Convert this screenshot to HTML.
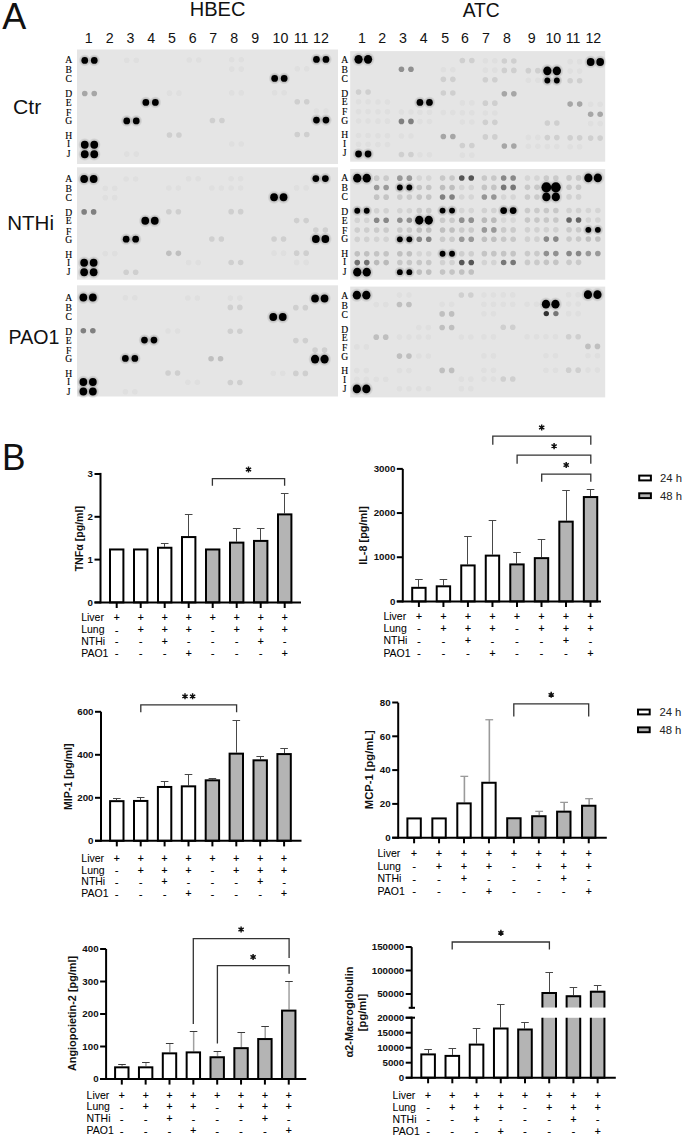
<!DOCTYPE html>
<html><head><meta charset="utf-8"><title>Figure</title>
<style>
html,body{margin:0;padding:0;background:#fff;width:685px;height:1139px;overflow:hidden;}
svg{display:block;}
</style></head>
<body>
<svg width="685" height="1139" viewBox="0 0 685 1139">
<defs><radialGradient id="hg"><stop offset="0.5" stop-color="#000" stop-opacity="0.22"/><stop offset="1" stop-color="#000" stop-opacity="0"/></radialGradient><filter id="bl" x="-2%" y="-2%" width="104%" height="104%"><feGaussianBlur stdDeviation="0.7"/></filter></defs>
<rect width="685" height="1139" fill="#fff"/>
<text transform="translate(2.2,29.2) scale(0.96,1)" font-size="37.5" font-family='"Liberation Sans", sans-serif' font-weight="normal" fill="#111" text-anchor="start">A</text>
<text transform="translate(217.6,16.2) scale(1.04,1)" font-size="19.3" font-family='"Liberation Sans", sans-serif' font-weight="normal" fill="#111" text-anchor="middle">HBEC</text>
<text x="481.2" y="16.6" font-size="19.3" font-family='"Liberation Sans", sans-serif' font-weight="normal" fill="#111" text-anchor="middle">ATC</text>
<text x="88.8" y="43.4" font-size="14.2" font-family='"Liberation Sans", sans-serif' font-weight="normal" fill="#111" text-anchor="middle">1</text>
<text x="109.7" y="43.4" font-size="14.2" font-family='"Liberation Sans", sans-serif' font-weight="normal" fill="#111" text-anchor="middle">2</text>
<text x="130.5" y="43.4" font-size="14.2" font-family='"Liberation Sans", sans-serif' font-weight="normal" fill="#111" text-anchor="middle">3</text>
<text x="151.1" y="43.4" font-size="14.2" font-family='"Liberation Sans", sans-serif' font-weight="normal" fill="#111" text-anchor="middle">4</text>
<text x="171.9" y="43.4" font-size="14.2" font-family='"Liberation Sans", sans-serif' font-weight="normal" fill="#111" text-anchor="middle">5</text>
<text x="192.7" y="43.4" font-size="14.2" font-family='"Liberation Sans", sans-serif' font-weight="normal" fill="#111" text-anchor="middle">6</text>
<text x="213.2" y="43.4" font-size="14.2" font-family='"Liberation Sans", sans-serif' font-weight="normal" fill="#111" text-anchor="middle">7</text>
<text x="234.1" y="43.4" font-size="14.2" font-family='"Liberation Sans", sans-serif' font-weight="normal" fill="#111" text-anchor="middle">8</text>
<text x="255.3" y="43.4" font-size="14.2" font-family='"Liberation Sans", sans-serif' font-weight="normal" fill="#111" text-anchor="middle">9</text>
<text x="280.4" y="43.4" font-size="14.2" font-family='"Liberation Sans", sans-serif' font-weight="normal" fill="#111" text-anchor="middle">10</text>
<text x="301.1" y="43.4" font-size="14.2" font-family='"Liberation Sans", sans-serif' font-weight="normal" fill="#111" text-anchor="middle">11</text>
<text x="320.9" y="43.4" font-size="14.2" font-family='"Liberation Sans", sans-serif' font-weight="normal" fill="#111" text-anchor="middle">12</text>
<text x="361.9" y="43.4" font-size="14.2" font-family='"Liberation Sans", sans-serif' font-weight="normal" fill="#111" text-anchor="middle">1</text>
<text x="382.2" y="43.4" font-size="14.2" font-family='"Liberation Sans", sans-serif' font-weight="normal" fill="#111" text-anchor="middle">2</text>
<text x="403" y="43.4" font-size="14.2" font-family='"Liberation Sans", sans-serif' font-weight="normal" fill="#111" text-anchor="middle">3</text>
<text x="423.8" y="43.4" font-size="14.2" font-family='"Liberation Sans", sans-serif' font-weight="normal" fill="#111" text-anchor="middle">4</text>
<text x="445.3" y="43.4" font-size="14.2" font-family='"Liberation Sans", sans-serif' font-weight="normal" fill="#111" text-anchor="middle">5</text>
<text x="464.9" y="43.4" font-size="14.2" font-family='"Liberation Sans", sans-serif' font-weight="normal" fill="#111" text-anchor="middle">6</text>
<text x="486" y="43.4" font-size="14.2" font-family='"Liberation Sans", sans-serif' font-weight="normal" fill="#111" text-anchor="middle">7</text>
<text x="507" y="43.4" font-size="14.2" font-family='"Liberation Sans", sans-serif' font-weight="normal" fill="#111" text-anchor="middle">8</text>
<text x="531.8" y="43.4" font-size="14.2" font-family='"Liberation Sans", sans-serif' font-weight="normal" fill="#111" text-anchor="middle">9</text>
<text x="553.3" y="43.4" font-size="14.2" font-family='"Liberation Sans", sans-serif' font-weight="normal" fill="#111" text-anchor="middle">10</text>
<text x="573" y="43.4" font-size="14.2" font-family='"Liberation Sans", sans-serif' font-weight="normal" fill="#111" text-anchor="middle">11</text>
<text x="593.3" y="43.4" font-size="14.2" font-family='"Liberation Sans", sans-serif' font-weight="normal" fill="#111" text-anchor="middle">12</text>
<text transform="translate(13.1,114) scale(1.08,1)" font-size="19.6" font-family='"Liberation Sans", sans-serif' font-weight="normal" fill="#111" text-anchor="start">Ctr</text>
<text transform="translate(7.2,229.9) scale(1.05,1)" font-size="19.6" font-family='"Liberation Sans", sans-serif' font-weight="normal" fill="#111" text-anchor="start">NTHi</text>
<text x="8.6" y="343.6" font-size="19.6" font-family='"Liberation Sans", sans-serif' font-weight="normal" fill="#111" text-anchor="start">PAO1</text>
<rect x="77" y="49.5" width="261" height="114.5" fill="#e5e5e5"/>
<g filter="url(#bl)">
<ellipse cx="84.75" cy="60.4" rx="6.15" ry="6.2" fill="url(#hg)"/>
<ellipse cx="94.25" cy="60.4" rx="6.15" ry="6.2" fill="url(#hg)"/>
<ellipse cx="84.75" cy="60.4" rx="3.35" ry="3.4" fill="#000000"/>
<ellipse cx="94.25" cy="60.4" rx="3.35" ry="3.4" fill="#000000"/>
<ellipse cx="126.75" cy="60.22" rx="2.8" ry="2.8" fill="#dfdfdf"/>
<ellipse cx="136.25" cy="60.22" rx="2.8" ry="2.8" fill="#dfdfdf"/>
<ellipse cx="189.25" cy="59.95" rx="2.8" ry="2.8" fill="#dfdfdf"/>
<ellipse cx="198.75" cy="59.95" rx="2.8" ry="2.8" fill="#dfdfdf"/>
<ellipse cx="231.75" cy="59.77" rx="2.8" ry="2.8" fill="#dfdfdf"/>
<ellipse cx="241.25" cy="59.77" rx="2.8" ry="2.8" fill="#dfdfdf"/>
<ellipse cx="316.45" cy="59.4" rx="6.15" ry="6.2" fill="url(#hg)"/>
<ellipse cx="325.95" cy="59.4" rx="6.15" ry="6.2" fill="url(#hg)"/>
<ellipse cx="316.45" cy="59.4" rx="3.35" ry="3.4" fill="#000000"/>
<ellipse cx="325.95" cy="59.4" rx="3.35" ry="3.4" fill="#000000"/>
<ellipse cx="231.75" cy="69.08" rx="2.8" ry="2.8" fill="#dfdfdf"/>
<ellipse cx="241.25" cy="69.08" rx="2.8" ry="2.8" fill="#dfdfdf"/>
<ellipse cx="297.25" cy="68.79" rx="2.8" ry="2.8" fill="#dfdfdf"/>
<ellipse cx="306.75" cy="68.79" rx="2.8" ry="2.8" fill="#dfdfdf"/>
<ellipse cx="274.65" cy="78.4" rx="6.15" ry="6.2" fill="url(#hg)"/>
<ellipse cx="284.15" cy="78.4" rx="6.15" ry="6.2" fill="url(#hg)"/>
<ellipse cx="274.65" cy="78.4" rx="3.35" ry="3.4" fill="#000000"/>
<ellipse cx="284.15" cy="78.4" rx="3.35" ry="3.4" fill="#000000"/>
<ellipse cx="84.75" cy="93.54" rx="2.8" ry="2.8" fill="#a6a6a6"/>
<ellipse cx="94.25" cy="93.54" rx="2.8" ry="2.8" fill="#a6a6a6"/>
<ellipse cx="169.45" cy="93.17" rx="2.8" ry="2.8" fill="#dfdfdf"/>
<ellipse cx="178.95" cy="93.17" rx="2.8" ry="2.8" fill="#dfdfdf"/>
<ellipse cx="231.75" cy="92.9" rx="2.8" ry="2.8" fill="#dfdfdf"/>
<ellipse cx="241.25" cy="92.9" rx="2.8" ry="2.8" fill="#dfdfdf"/>
<ellipse cx="274.65" cy="92.72" rx="2.8" ry="2.8" fill="#dfdfdf"/>
<ellipse cx="284.15" cy="92.72" rx="2.8" ry="2.8" fill="#dfdfdf"/>
<ellipse cx="145.85" cy="102.38" rx="6.15" ry="6.2" fill="url(#hg)"/>
<ellipse cx="155.35" cy="102.38" rx="6.15" ry="6.2" fill="url(#hg)"/>
<ellipse cx="145.85" cy="102.38" rx="3.35" ry="3.4" fill="#000000"/>
<ellipse cx="155.35" cy="102.38" rx="3.35" ry="3.4" fill="#000000"/>
<ellipse cx="297.25" cy="101.73" rx="2.8" ry="2.8" fill="#cfcfcf"/>
<ellipse cx="306.75" cy="101.73" rx="2.8" ry="2.8" fill="#cfcfcf"/>
<ellipse cx="316.45" cy="111.06" rx="2.8" ry="2.8" fill="#dfdfdf"/>
<ellipse cx="325.95" cy="111.06" rx="2.8" ry="2.8" fill="#dfdfdf"/>
<ellipse cx="126.75" cy="120.88" rx="6.15" ry="6.2" fill="url(#hg)"/>
<ellipse cx="136.25" cy="120.88" rx="6.15" ry="6.2" fill="url(#hg)"/>
<ellipse cx="126.75" cy="120.88" rx="3.35" ry="3.4" fill="#000000"/>
<ellipse cx="136.25" cy="120.88" rx="3.35" ry="3.4" fill="#000000"/>
<ellipse cx="212.45" cy="120.51" rx="2.8" ry="2.8" fill="#cfcfcf"/>
<ellipse cx="221.95" cy="120.51" rx="2.8" ry="2.8" fill="#cfcfcf"/>
<ellipse cx="316.45" cy="120.06" rx="6.15" ry="6.2" fill="url(#hg)"/>
<ellipse cx="325.95" cy="120.06" rx="6.15" ry="6.2" fill="url(#hg)"/>
<ellipse cx="316.45" cy="120.06" rx="3.35" ry="3.4" fill="#000000"/>
<ellipse cx="325.95" cy="120.06" rx="3.35" ry="3.4" fill="#000000"/>
<ellipse cx="169.45" cy="135.01" rx="2.8" ry="2.8" fill="#cfcfcf"/>
<ellipse cx="178.95" cy="135.01" rx="2.8" ry="2.8" fill="#cfcfcf"/>
<ellipse cx="297.25" cy="134.46" rx="2.8" ry="2.8" fill="#cfcfcf"/>
<ellipse cx="306.75" cy="134.46" rx="2.8" ry="2.8" fill="#cfcfcf"/>
<ellipse cx="84.75" cy="144.69" rx="6.65" ry="6.8" fill="url(#hg)"/>
<ellipse cx="94.25" cy="144.69" rx="6.65" ry="6.8" fill="url(#hg)"/>
<ellipse cx="84.75" cy="144.69" rx="3.85" ry="4" fill="#000000"/>
<ellipse cx="94.25" cy="144.69" rx="3.85" ry="4" fill="#000000"/>
<ellipse cx="231.75" cy="144.06" rx="2.8" ry="2.8" fill="#dfdfdf"/>
<ellipse cx="241.25" cy="144.06" rx="2.8" ry="2.8" fill="#dfdfdf"/>
<ellipse cx="84.75" cy="154.3" rx="6.65" ry="6.8" fill="url(#hg)"/>
<ellipse cx="94.25" cy="154.3" rx="6.65" ry="6.8" fill="url(#hg)"/>
<ellipse cx="84.75" cy="154.3" rx="3.85" ry="4" fill="#000000"/>
<ellipse cx="94.25" cy="154.3" rx="3.85" ry="4" fill="#000000"/>
<ellipse cx="126.75" cy="154.12" rx="2.8" ry="2.8" fill="#dfdfdf"/>
<ellipse cx="136.25" cy="154.12" rx="2.8" ry="2.8" fill="#dfdfdf"/>
</g>
<text x="68.7" y="62.8" font-size="9.6" font-family='"Liberation Serif", serif' font-weight="normal" fill="#000" text-anchor="middle" stroke="#000" stroke-width="0.12">A</text>
<text x="68.7" y="72.9" font-size="9.6" font-family='"Liberation Serif", serif' font-weight="normal" fill="#000" text-anchor="middle" stroke="#000" stroke-width="0.12">B</text>
<text x="68.7" y="81.9" font-size="9.6" font-family='"Liberation Serif", serif' font-weight="normal" fill="#000" text-anchor="middle" stroke="#000" stroke-width="0.12">C</text>
<text x="68.7" y="96.8" font-size="9.6" font-family='"Liberation Serif", serif' font-weight="normal" fill="#000" text-anchor="middle" stroke="#000" stroke-width="0.12">D</text>
<text x="68.7" y="105.5" font-size="9.6" font-family='"Liberation Serif", serif' font-weight="normal" fill="#000" text-anchor="middle" stroke="#000" stroke-width="0.12">E</text>
<text x="68.7" y="115.6" font-size="9.6" font-family='"Liberation Serif", serif' font-weight="normal" fill="#000" text-anchor="middle" stroke="#000" stroke-width="0.12">F</text>
<text x="68.7" y="124.3" font-size="9.6" font-family='"Liberation Serif", serif' font-weight="normal" fill="#000" text-anchor="middle" stroke="#000" stroke-width="0.12">G</text>
<text x="68.7" y="138.6" font-size="9.6" font-family='"Liberation Serif", serif' font-weight="normal" fill="#000" text-anchor="middle" stroke="#000" stroke-width="0.12">H</text>
<text x="68.7" y="147" font-size="9.6" font-family='"Liberation Serif", serif' font-weight="normal" fill="#000" text-anchor="middle" stroke="#000" stroke-width="0.12">I</text>
<text x="68.7" y="156.5" font-size="9.6" font-family='"Liberation Serif", serif' font-weight="normal" fill="#000" text-anchor="middle" stroke="#000" stroke-width="0.12">J</text>
<rect x="77" y="167.3" width="261" height="112.4" fill="#e5e5e5"/>
<g filter="url(#bl)">
<ellipse cx="84.15" cy="179" rx="6.65" ry="6.8" fill="url(#hg)"/>
<ellipse cx="93.65" cy="179" rx="6.65" ry="6.8" fill="url(#hg)"/>
<ellipse cx="84.15" cy="179" rx="3.85" ry="4" fill="#000000"/>
<ellipse cx="93.65" cy="179" rx="3.85" ry="4" fill="#000000"/>
<ellipse cx="126.15" cy="178.93" rx="2.8" ry="2.8" fill="#dfdfdf"/>
<ellipse cx="135.65" cy="178.93" rx="2.8" ry="2.8" fill="#dfdfdf"/>
<ellipse cx="188.65" cy="178.82" rx="2.8" ry="2.8" fill="#dfdfdf"/>
<ellipse cx="198.15" cy="178.82" rx="2.8" ry="2.8" fill="#dfdfdf"/>
<ellipse cx="231.15" cy="178.75" rx="2.8" ry="2.8" fill="#dfdfdf"/>
<ellipse cx="240.65" cy="178.75" rx="2.8" ry="2.8" fill="#dfdfdf"/>
<ellipse cx="315.85" cy="178.6" rx="6.15" ry="6.2" fill="url(#hg)"/>
<ellipse cx="325.35" cy="178.6" rx="6.15" ry="6.2" fill="url(#hg)"/>
<ellipse cx="315.85" cy="178.6" rx="3.35" ry="3.4" fill="#000000"/>
<ellipse cx="325.35" cy="178.6" rx="3.35" ry="3.4" fill="#000000"/>
<ellipse cx="105.25" cy="188.22" rx="2.8" ry="2.8" fill="#dfdfdf"/>
<ellipse cx="114.75" cy="188.22" rx="2.8" ry="2.8" fill="#dfdfdf"/>
<ellipse cx="168.85" cy="188.11" rx="2.8" ry="2.8" fill="#dfdfdf"/>
<ellipse cx="178.35" cy="188.11" rx="2.8" ry="2.8" fill="#dfdfdf"/>
<ellipse cx="211.85" cy="188.03" rx="2.8" ry="2.8" fill="#dfdfdf"/>
<ellipse cx="221.35" cy="188.03" rx="2.8" ry="2.8" fill="#dfdfdf"/>
<ellipse cx="231.15" cy="188" rx="2.8" ry="2.8" fill="#dfdfdf"/>
<ellipse cx="240.65" cy="188" rx="2.8" ry="2.8" fill="#dfdfdf"/>
<ellipse cx="296.65" cy="187.88" rx="2.8" ry="2.8" fill="#dfdfdf"/>
<ellipse cx="306.15" cy="187.88" rx="2.8" ry="2.8" fill="#dfdfdf"/>
<ellipse cx="105.25" cy="197.66" rx="2.8" ry="2.8" fill="#dfdfdf"/>
<ellipse cx="114.75" cy="197.66" rx="2.8" ry="2.8" fill="#dfdfdf"/>
<ellipse cx="274.05" cy="197.37" rx="6.65" ry="6.8" fill="url(#hg)"/>
<ellipse cx="283.55" cy="197.37" rx="6.65" ry="6.8" fill="url(#hg)"/>
<ellipse cx="274.05" cy="197.37" rx="3.85" ry="4" fill="#000000"/>
<ellipse cx="283.55" cy="197.37" rx="3.85" ry="4" fill="#000000"/>
<ellipse cx="84.15" cy="211.92" rx="2.8" ry="2.8" fill="#808080"/>
<ellipse cx="93.65" cy="211.92" rx="2.8" ry="2.8" fill="#808080"/>
<ellipse cx="168.85" cy="211.78" rx="2.8" ry="2.8" fill="#cfcfcf"/>
<ellipse cx="178.35" cy="211.78" rx="2.8" ry="2.8" fill="#cfcfcf"/>
<ellipse cx="231.15" cy="211.67" rx="2.8" ry="2.8" fill="#cfcfcf"/>
<ellipse cx="240.65" cy="211.67" rx="2.8" ry="2.8" fill="#cfcfcf"/>
<ellipse cx="145.25" cy="220.87" rx="6.65" ry="6.8" fill="url(#hg)"/>
<ellipse cx="154.75" cy="220.87" rx="6.65" ry="6.8" fill="url(#hg)"/>
<ellipse cx="145.25" cy="220.87" rx="3.85" ry="4" fill="#000000"/>
<ellipse cx="154.75" cy="220.87" rx="3.85" ry="4" fill="#000000"/>
<ellipse cx="296.65" cy="220.61" rx="2.8" ry="2.8" fill="#cfcfcf"/>
<ellipse cx="306.15" cy="220.61" rx="2.8" ry="2.8" fill="#cfcfcf"/>
<ellipse cx="315.85" cy="229.93" rx="2.8" ry="2.8" fill="#cfcfcf"/>
<ellipse cx="325.35" cy="229.93" rx="2.8" ry="2.8" fill="#cfcfcf"/>
<ellipse cx="126.15" cy="239.21" rx="6.15" ry="6.2" fill="url(#hg)"/>
<ellipse cx="135.65" cy="239.21" rx="6.15" ry="6.2" fill="url(#hg)"/>
<ellipse cx="126.15" cy="239.21" rx="3.35" ry="3.4" fill="#000000"/>
<ellipse cx="135.65" cy="239.21" rx="3.35" ry="3.4" fill="#000000"/>
<ellipse cx="211.85" cy="239.06" rx="2.8" ry="2.8" fill="#cfcfcf"/>
<ellipse cx="221.35" cy="239.06" rx="2.8" ry="2.8" fill="#cfcfcf"/>
<ellipse cx="274.05" cy="238.95" rx="2.8" ry="2.8" fill="#cfcfcf"/>
<ellipse cx="283.55" cy="238.95" rx="2.8" ry="2.8" fill="#cfcfcf"/>
<ellipse cx="315.85" cy="238.88" rx="6.65" ry="6.8" fill="url(#hg)"/>
<ellipse cx="325.35" cy="238.88" rx="6.65" ry="6.8" fill="url(#hg)"/>
<ellipse cx="315.85" cy="238.88" rx="3.85" ry="4" fill="#000000"/>
<ellipse cx="325.35" cy="238.88" rx="3.85" ry="4" fill="#000000"/>
<ellipse cx="105.25" cy="253.47" rx="2.8" ry="2.8" fill="#dfdfdf"/>
<ellipse cx="114.75" cy="253.47" rx="2.8" ry="2.8" fill="#dfdfdf"/>
<ellipse cx="168.85" cy="253.36" rx="2.8" ry="2.8" fill="#bfbfbf"/>
<ellipse cx="178.35" cy="253.36" rx="2.8" ry="2.8" fill="#bfbfbf"/>
<ellipse cx="274.05" cy="253.17" rx="2.8" ry="2.8" fill="#dfdfdf"/>
<ellipse cx="283.55" cy="253.17" rx="2.8" ry="2.8" fill="#dfdfdf"/>
<ellipse cx="296.65" cy="253.13" rx="2.8" ry="2.8" fill="#cfcfcf"/>
<ellipse cx="306.15" cy="253.13" rx="2.8" ry="2.8" fill="#cfcfcf"/>
<ellipse cx="84.15" cy="262.75" rx="6.65" ry="6.8" fill="url(#hg)"/>
<ellipse cx="93.65" cy="262.75" rx="6.65" ry="6.8" fill="url(#hg)"/>
<ellipse cx="84.15" cy="262.75" rx="3.85" ry="4" fill="#000000"/>
<ellipse cx="93.65" cy="262.75" rx="3.85" ry="4" fill="#000000"/>
<ellipse cx="188.65" cy="262.57" rx="2.8" ry="2.8" fill="#dfdfdf"/>
<ellipse cx="198.15" cy="262.57" rx="2.8" ry="2.8" fill="#dfdfdf"/>
<ellipse cx="231.15" cy="262.5" rx="2.8" ry="2.8" fill="#cfcfcf"/>
<ellipse cx="240.65" cy="262.5" rx="2.8" ry="2.8" fill="#cfcfcf"/>
<ellipse cx="296.65" cy="262.39" rx="2.8" ry="2.8" fill="#dfdfdf"/>
<ellipse cx="306.15" cy="262.39" rx="2.8" ry="2.8" fill="#dfdfdf"/>
<ellipse cx="84.15" cy="272.3" rx="6.65" ry="6.8" fill="url(#hg)"/>
<ellipse cx="93.65" cy="272.3" rx="6.65" ry="6.8" fill="url(#hg)"/>
<ellipse cx="84.15" cy="272.3" rx="3.85" ry="4" fill="#000000"/>
<ellipse cx="93.65" cy="272.3" rx="3.85" ry="4" fill="#000000"/>
<ellipse cx="126.15" cy="272.23" rx="2.8" ry="2.8" fill="#cfcfcf"/>
<ellipse cx="135.65" cy="272.23" rx="2.8" ry="2.8" fill="#cfcfcf"/>
</g>
<text x="68.7" y="181.7" font-size="9.6" font-family='"Liberation Serif", serif' font-weight="normal" fill="#000" text-anchor="middle" stroke="#000" stroke-width="0.12">A</text>
<text x="68.7" y="191.8" font-size="9.6" font-family='"Liberation Serif", serif' font-weight="normal" fill="#000" text-anchor="middle" stroke="#000" stroke-width="0.12">B</text>
<text x="68.7" y="200.8" font-size="9.6" font-family='"Liberation Serif", serif' font-weight="normal" fill="#000" text-anchor="middle" stroke="#000" stroke-width="0.12">C</text>
<text x="68.7" y="215.7" font-size="9.6" font-family='"Liberation Serif", serif' font-weight="normal" fill="#000" text-anchor="middle" stroke="#000" stroke-width="0.12">D</text>
<text x="68.7" y="224.4" font-size="9.6" font-family='"Liberation Serif", serif' font-weight="normal" fill="#000" text-anchor="middle" stroke="#000" stroke-width="0.12">E</text>
<text x="68.7" y="234.5" font-size="9.6" font-family='"Liberation Serif", serif' font-weight="normal" fill="#000" text-anchor="middle" stroke="#000" stroke-width="0.12">F</text>
<text x="68.7" y="243.2" font-size="9.6" font-family='"Liberation Serif", serif' font-weight="normal" fill="#000" text-anchor="middle" stroke="#000" stroke-width="0.12">G</text>
<text x="68.7" y="257.5" font-size="9.6" font-family='"Liberation Serif", serif' font-weight="normal" fill="#000" text-anchor="middle" stroke="#000" stroke-width="0.12">H</text>
<text x="68.7" y="265.9" font-size="9.6" font-family='"Liberation Serif", serif' font-weight="normal" fill="#000" text-anchor="middle" stroke="#000" stroke-width="0.12">I</text>
<text x="68.7" y="275.4" font-size="9.6" font-family='"Liberation Serif", serif' font-weight="normal" fill="#000" text-anchor="middle" stroke="#000" stroke-width="0.12">J</text>
<rect x="77" y="285.3" width="261" height="111.2" fill="#e5e5e5"/>
<g filter="url(#bl)">
<ellipse cx="83.35" cy="297.6" rx="6.65" ry="6.8" fill="url(#hg)"/>
<ellipse cx="92.85" cy="297.6" rx="6.65" ry="6.8" fill="url(#hg)"/>
<ellipse cx="83.35" cy="297.6" rx="3.85" ry="4" fill="#000000"/>
<ellipse cx="92.85" cy="297.6" rx="3.85" ry="4" fill="#000000"/>
<ellipse cx="125.35" cy="297.74" rx="2.8" ry="2.8" fill="#dfdfdf"/>
<ellipse cx="134.85" cy="297.74" rx="2.8" ry="2.8" fill="#dfdfdf"/>
<ellipse cx="187.85" cy="297.96" rx="2.8" ry="2.8" fill="#dfdfdf"/>
<ellipse cx="197.35" cy="297.96" rx="2.8" ry="2.8" fill="#dfdfdf"/>
<ellipse cx="230.35" cy="298.1" rx="2.8" ry="2.8" fill="#dfdfdf"/>
<ellipse cx="239.85" cy="298.1" rx="2.8" ry="2.8" fill="#dfdfdf"/>
<ellipse cx="315.05" cy="298.4" rx="6.65" ry="6.8" fill="url(#hg)"/>
<ellipse cx="324.55" cy="298.4" rx="6.65" ry="6.8" fill="url(#hg)"/>
<ellipse cx="315.05" cy="298.4" rx="3.85" ry="4" fill="#000000"/>
<ellipse cx="324.55" cy="298.4" rx="3.85" ry="4" fill="#000000"/>
<ellipse cx="230.35" cy="307.42" rx="2.8" ry="2.8" fill="#cfcfcf"/>
<ellipse cx="239.85" cy="307.42" rx="2.8" ry="2.8" fill="#cfcfcf"/>
<ellipse cx="295.85" cy="307.65" rx="2.8" ry="2.8" fill="#cfcfcf"/>
<ellipse cx="305.35" cy="307.65" rx="2.8" ry="2.8" fill="#cfcfcf"/>
<ellipse cx="273.25" cy="317.09" rx="6.65" ry="6.8" fill="url(#hg)"/>
<ellipse cx="282.75" cy="317.09" rx="6.65" ry="6.8" fill="url(#hg)"/>
<ellipse cx="273.25" cy="317.09" rx="3.85" ry="4" fill="#000000"/>
<ellipse cx="282.75" cy="317.09" rx="3.85" ry="4" fill="#000000"/>
<ellipse cx="83.35" cy="330.77" rx="2.8" ry="2.8" fill="#808080"/>
<ellipse cx="92.85" cy="330.77" rx="2.8" ry="2.8" fill="#808080"/>
<ellipse cx="168.05" cy="331.06" rx="2.8" ry="2.8" fill="#dfdfdf"/>
<ellipse cx="177.55" cy="331.06" rx="2.8" ry="2.8" fill="#dfdfdf"/>
<ellipse cx="230.35" cy="331.27" rx="2.8" ry="2.8" fill="#cfcfcf"/>
<ellipse cx="239.85" cy="331.27" rx="2.8" ry="2.8" fill="#cfcfcf"/>
<ellipse cx="144.45" cy="340.1" rx="6.15" ry="6.2" fill="url(#hg)"/>
<ellipse cx="153.95" cy="340.1" rx="6.15" ry="6.2" fill="url(#hg)"/>
<ellipse cx="144.45" cy="340.1" rx="3.35" ry="3.4" fill="#000000"/>
<ellipse cx="153.95" cy="340.1" rx="3.35" ry="3.4" fill="#000000"/>
<ellipse cx="295.85" cy="340.62" rx="2.8" ry="2.8" fill="#cfcfcf"/>
<ellipse cx="305.35" cy="340.62" rx="2.8" ry="2.8" fill="#cfcfcf"/>
<ellipse cx="315.05" cy="350.11" rx="2.8" ry="2.8" fill="#cfcfcf"/>
<ellipse cx="324.55" cy="350.11" rx="2.8" ry="2.8" fill="#cfcfcf"/>
<ellipse cx="125.35" cy="358.47" rx="6.15" ry="6.2" fill="url(#hg)"/>
<ellipse cx="134.85" cy="358.47" rx="6.15" ry="6.2" fill="url(#hg)"/>
<ellipse cx="125.35" cy="358.47" rx="3.35" ry="3.4" fill="#000000"/>
<ellipse cx="134.85" cy="358.47" rx="3.35" ry="3.4" fill="#000000"/>
<ellipse cx="211.05" cy="358.77" rx="2.8" ry="2.8" fill="#bfbfbf"/>
<ellipse cx="220.55" cy="358.77" rx="2.8" ry="2.8" fill="#bfbfbf"/>
<ellipse cx="315.05" cy="359.12" rx="6.9" ry="7.2" fill="url(#hg)"/>
<ellipse cx="324.55" cy="359.12" rx="6.9" ry="7.2" fill="url(#hg)"/>
<ellipse cx="315.05" cy="359.12" rx="4.1" ry="4.4" fill="#000000"/>
<ellipse cx="324.55" cy="359.12" rx="4.1" ry="4.4" fill="#000000"/>
<ellipse cx="168.05" cy="372.95" rx="2.8" ry="2.8" fill="#cfcfcf"/>
<ellipse cx="177.55" cy="372.95" rx="2.8" ry="2.8" fill="#cfcfcf"/>
<ellipse cx="273.25" cy="373.31" rx="2.8" ry="2.8" fill="#dfdfdf"/>
<ellipse cx="282.75" cy="373.31" rx="2.8" ry="2.8" fill="#dfdfdf"/>
<ellipse cx="295.85" cy="373.39" rx="2.8" ry="2.8" fill="#cfcfcf"/>
<ellipse cx="305.35" cy="373.39" rx="2.8" ry="2.8" fill="#cfcfcf"/>
<ellipse cx="83.35" cy="381.97" rx="6.65" ry="6.8" fill="url(#hg)"/>
<ellipse cx="92.85" cy="381.97" rx="6.65" ry="6.8" fill="url(#hg)"/>
<ellipse cx="83.35" cy="381.97" rx="3.85" ry="4" fill="#000000"/>
<ellipse cx="92.85" cy="381.97" rx="3.85" ry="4" fill="#000000"/>
<ellipse cx="187.85" cy="382.34" rx="2.8" ry="2.8" fill="#dfdfdf"/>
<ellipse cx="197.35" cy="382.34" rx="2.8" ry="2.8" fill="#dfdfdf"/>
<ellipse cx="230.35" cy="382.48" rx="2.8" ry="2.8" fill="#cfcfcf"/>
<ellipse cx="239.85" cy="382.48" rx="2.8" ry="2.8" fill="#cfcfcf"/>
<ellipse cx="83.35" cy="391.6" rx="6.65" ry="6.8" fill="url(#hg)"/>
<ellipse cx="92.85" cy="391.6" rx="6.65" ry="6.8" fill="url(#hg)"/>
<ellipse cx="83.35" cy="391.6" rx="3.85" ry="4" fill="#000000"/>
<ellipse cx="92.85" cy="391.6" rx="3.85" ry="4" fill="#000000"/>
<ellipse cx="125.35" cy="391.74" rx="2.8" ry="2.8" fill="#dfdfdf"/>
<ellipse cx="134.85" cy="391.74" rx="2.8" ry="2.8" fill="#dfdfdf"/>
</g>
<text x="68.7" y="300.8" font-size="9.6" font-family='"Liberation Serif", serif' font-weight="normal" fill="#000" text-anchor="middle" stroke="#000" stroke-width="0.12">A</text>
<text x="68.7" y="310.9" font-size="9.6" font-family='"Liberation Serif", serif' font-weight="normal" fill="#000" text-anchor="middle" stroke="#000" stroke-width="0.12">B</text>
<text x="68.7" y="319.9" font-size="9.6" font-family='"Liberation Serif", serif' font-weight="normal" fill="#000" text-anchor="middle" stroke="#000" stroke-width="0.12">C</text>
<text x="68.7" y="334.8" font-size="9.6" font-family='"Liberation Serif", serif' font-weight="normal" fill="#000" text-anchor="middle" stroke="#000" stroke-width="0.12">D</text>
<text x="68.7" y="343.5" font-size="9.6" font-family='"Liberation Serif", serif' font-weight="normal" fill="#000" text-anchor="middle" stroke="#000" stroke-width="0.12">E</text>
<text x="68.7" y="353.6" font-size="9.6" font-family='"Liberation Serif", serif' font-weight="normal" fill="#000" text-anchor="middle" stroke="#000" stroke-width="0.12">F</text>
<text x="68.7" y="362.3" font-size="9.6" font-family='"Liberation Serif", serif' font-weight="normal" fill="#000" text-anchor="middle" stroke="#000" stroke-width="0.12">G</text>
<text x="68.7" y="376.6" font-size="9.6" font-family='"Liberation Serif", serif' font-weight="normal" fill="#000" text-anchor="middle" stroke="#000" stroke-width="0.12">H</text>
<text x="68.7" y="385" font-size="9.6" font-family='"Liberation Serif", serif' font-weight="normal" fill="#000" text-anchor="middle" stroke="#000" stroke-width="0.12">I</text>
<text x="68.7" y="394.5" font-size="9.6" font-family='"Liberation Serif", serif' font-weight="normal" fill="#000" text-anchor="middle" stroke="#000" stroke-width="0.12">J</text>
<rect x="350.2" y="51.1" width="255" height="110.6" fill="#e5e5e5"/>
<g filter="url(#bl)">
<ellipse cx="358.55" cy="59.3" rx="6.9" ry="7.2" fill="url(#hg)"/>
<ellipse cx="368.05" cy="59.3" rx="6.9" ry="7.2" fill="url(#hg)"/>
<ellipse cx="358.55" cy="59.3" rx="4.1" ry="4.4" fill="#000000"/>
<ellipse cx="368.05" cy="59.3" rx="4.1" ry="4.4" fill="#000000"/>
<ellipse cx="462.35" cy="60.46" rx="2.8" ry="2.8" fill="#cfcfcf"/>
<ellipse cx="471.85" cy="60.46" rx="2.8" ry="2.8" fill="#cfcfcf"/>
<ellipse cx="485.35" cy="60.72" rx="2.8" ry="2.8" fill="#dfdfdf"/>
<ellipse cx="494.85" cy="60.72" rx="2.8" ry="2.8" fill="#dfdfdf"/>
<ellipse cx="504.35" cy="60.93" rx="2.8" ry="2.8" fill="#cfcfcf"/>
<ellipse cx="513.85" cy="60.93" rx="2.8" ry="2.8" fill="#cfcfcf"/>
<ellipse cx="570.15" cy="61.67" rx="2.8" ry="2.8" fill="#dfdfdf"/>
<ellipse cx="579.65" cy="61.67" rx="2.8" ry="2.8" fill="#dfdfdf"/>
<ellipse cx="590.65" cy="61.9" rx="6.65" ry="6.8" fill="url(#hg)"/>
<ellipse cx="600.15" cy="61.9" rx="6.65" ry="6.8" fill="url(#hg)"/>
<ellipse cx="590.65" cy="61.9" rx="3.85" ry="4" fill="#000000"/>
<ellipse cx="600.15" cy="61.9" rx="3.85" ry="4" fill="#000000"/>
<ellipse cx="401.45" cy="69.23" rx="2.8" ry="2.8" fill="#909090"/>
<ellipse cx="410.95" cy="69.23" rx="2.8" ry="2.8" fill="#909090"/>
<ellipse cx="443.35" cy="69.7" rx="2.8" ry="2.8" fill="#dfdfdf"/>
<ellipse cx="452.85" cy="69.7" rx="2.8" ry="2.8" fill="#dfdfdf"/>
<ellipse cx="485.35" cy="70.17" rx="2.8" ry="2.8" fill="#dfdfdf"/>
<ellipse cx="494.85" cy="70.17" rx="2.8" ry="2.8" fill="#dfdfdf"/>
<ellipse cx="504.35" cy="70.38" rx="2.8" ry="2.8" fill="#cfcfcf"/>
<ellipse cx="513.85" cy="70.38" rx="2.8" ry="2.8" fill="#cfcfcf"/>
<ellipse cx="528.35" cy="70.65" rx="2.8" ry="2.8" fill="#cfcfcf"/>
<ellipse cx="537.85" cy="70.65" rx="2.8" ry="2.8" fill="#cfcfcf"/>
<ellipse cx="547.35" cy="70.86" rx="6.9" ry="7.2" fill="url(#hg)"/>
<ellipse cx="556.85" cy="70.86" rx="6.9" ry="7.2" fill="url(#hg)"/>
<ellipse cx="547.35" cy="70.86" rx="4.1" ry="4.4" fill="#000000"/>
<ellipse cx="556.85" cy="70.86" rx="4.1" ry="4.4" fill="#000000"/>
<ellipse cx="570.15" cy="71.12" rx="2.8" ry="2.8" fill="#dfdfdf"/>
<ellipse cx="579.65" cy="71.12" rx="2.8" ry="2.8" fill="#dfdfdf"/>
<ellipse cx="443.35" cy="79.35" rx="2.8" ry="2.8" fill="#cfcfcf"/>
<ellipse cx="452.85" cy="79.35" rx="2.8" ry="2.8" fill="#cfcfcf"/>
<ellipse cx="485.35" cy="79.82" rx="2.8" ry="2.8" fill="#cfcfcf"/>
<ellipse cx="494.85" cy="79.82" rx="2.8" ry="2.8" fill="#cfcfcf"/>
<ellipse cx="528.35" cy="80.3" rx="2.8" ry="2.8" fill="#dfdfdf"/>
<ellipse cx="537.85" cy="80.3" rx="2.8" ry="2.8" fill="#dfdfdf"/>
<ellipse cx="547.35" cy="80.52" rx="5.7" ry="5.7" fill="url(#hg)"/>
<ellipse cx="556.85" cy="80.52" rx="5.7" ry="5.7" fill="url(#hg)"/>
<ellipse cx="547.35" cy="80.52" rx="2.9" ry="2.9" fill="#000000"/>
<ellipse cx="556.85" cy="80.52" rx="2.9" ry="2.9" fill="#000000"/>
<ellipse cx="570.15" cy="80.77" rx="2.8" ry="2.8" fill="#cfcfcf"/>
<ellipse cx="579.65" cy="80.77" rx="2.8" ry="2.8" fill="#cfcfcf"/>
<ellipse cx="358.55" cy="92.07" rx="2.8" ry="2.8" fill="#cfcfcf"/>
<ellipse cx="368.05" cy="92.07" rx="2.8" ry="2.8" fill="#cfcfcf"/>
<ellipse cx="443.35" cy="93.02" rx="2.8" ry="2.8" fill="#cfcfcf"/>
<ellipse cx="452.85" cy="93.02" rx="2.8" ry="2.8" fill="#cfcfcf"/>
<ellipse cx="504.35" cy="93.71" rx="2.8" ry="2.8" fill="#a6a6a6"/>
<ellipse cx="513.85" cy="93.71" rx="2.8" ry="2.8" fill="#a6a6a6"/>
<ellipse cx="358.55" cy="101.72" rx="2.8" ry="2.8" fill="#dfdfdf"/>
<ellipse cx="368.05" cy="101.72" rx="2.8" ry="2.8" fill="#dfdfdf"/>
<ellipse cx="377.95" cy="101.94" rx="2.8" ry="2.8" fill="#dfdfdf"/>
<ellipse cx="387.45" cy="101.94" rx="2.8" ry="2.8" fill="#dfdfdf"/>
<ellipse cx="419.95" cy="102.41" rx="6.15" ry="6.2" fill="url(#hg)"/>
<ellipse cx="429.45" cy="102.41" rx="6.15" ry="6.2" fill="url(#hg)"/>
<ellipse cx="419.95" cy="102.41" rx="3.35" ry="3.4" fill="#000000"/>
<ellipse cx="429.45" cy="102.41" rx="3.35" ry="3.4" fill="#000000"/>
<ellipse cx="462.35" cy="102.89" rx="2.8" ry="2.8" fill="#dfdfdf"/>
<ellipse cx="471.85" cy="102.89" rx="2.8" ry="2.8" fill="#dfdfdf"/>
<ellipse cx="485.35" cy="103.14" rx="2.8" ry="2.8" fill="#cfcfcf"/>
<ellipse cx="494.85" cy="103.14" rx="2.8" ry="2.8" fill="#cfcfcf"/>
<ellipse cx="570.15" cy="104.09" rx="2.8" ry="2.8" fill="#a6a6a6"/>
<ellipse cx="579.65" cy="104.09" rx="2.8" ry="2.8" fill="#a6a6a6"/>
<ellipse cx="590.65" cy="104.32" rx="2.8" ry="2.8" fill="#dfdfdf"/>
<ellipse cx="600.15" cy="104.32" rx="2.8" ry="2.8" fill="#dfdfdf"/>
<ellipse cx="358.55" cy="111.58" rx="2.8" ry="2.8" fill="#dfdfdf"/>
<ellipse cx="368.05" cy="111.58" rx="2.8" ry="2.8" fill="#dfdfdf"/>
<ellipse cx="377.95" cy="111.79" rx="2.8" ry="2.8" fill="#dfdfdf"/>
<ellipse cx="387.45" cy="111.79" rx="2.8" ry="2.8" fill="#dfdfdf"/>
<ellipse cx="401.45" cy="112.06" rx="2.8" ry="2.8" fill="#dfdfdf"/>
<ellipse cx="410.95" cy="112.06" rx="2.8" ry="2.8" fill="#dfdfdf"/>
<ellipse cx="419.95" cy="112.26" rx="2.8" ry="2.8" fill="#dfdfdf"/>
<ellipse cx="429.45" cy="112.26" rx="2.8" ry="2.8" fill="#dfdfdf"/>
<ellipse cx="443.35" cy="112.53" rx="2.8" ry="2.8" fill="#dfdfdf"/>
<ellipse cx="452.85" cy="112.53" rx="2.8" ry="2.8" fill="#dfdfdf"/>
<ellipse cx="462.35" cy="112.74" rx="2.8" ry="2.8" fill="#dfdfdf"/>
<ellipse cx="471.85" cy="112.74" rx="2.8" ry="2.8" fill="#dfdfdf"/>
<ellipse cx="485.35" cy="113" rx="2.8" ry="2.8" fill="#dfdfdf"/>
<ellipse cx="494.85" cy="113" rx="2.8" ry="2.8" fill="#dfdfdf"/>
<ellipse cx="590.65" cy="114.18" rx="2.8" ry="2.8" fill="#a6a6a6"/>
<ellipse cx="600.15" cy="114.18" rx="2.8" ry="2.8" fill="#a6a6a6"/>
<ellipse cx="358.55" cy="120.93" rx="2.8" ry="2.8" fill="#dfdfdf"/>
<ellipse cx="368.05" cy="120.93" rx="2.8" ry="2.8" fill="#dfdfdf"/>
<ellipse cx="377.95" cy="121.14" rx="2.8" ry="2.8" fill="#dfdfdf"/>
<ellipse cx="387.45" cy="121.14" rx="2.8" ry="2.8" fill="#dfdfdf"/>
<ellipse cx="401.45" cy="121.41" rx="2.8" ry="2.8" fill="#808080"/>
<ellipse cx="410.95" cy="121.41" rx="2.8" ry="2.8" fill="#808080"/>
<ellipse cx="419.95" cy="121.61" rx="2.8" ry="2.8" fill="#dfdfdf"/>
<ellipse cx="429.45" cy="121.61" rx="2.8" ry="2.8" fill="#dfdfdf"/>
<ellipse cx="462.35" cy="122.09" rx="2.8" ry="2.8" fill="#dfdfdf"/>
<ellipse cx="471.85" cy="122.09" rx="2.8" ry="2.8" fill="#dfdfdf"/>
<ellipse cx="485.35" cy="122.35" rx="2.8" ry="2.8" fill="#cfcfcf"/>
<ellipse cx="494.85" cy="122.35" rx="2.8" ry="2.8" fill="#cfcfcf"/>
<ellipse cx="547.35" cy="123.04" rx="2.8" ry="2.8" fill="#cfcfcf"/>
<ellipse cx="556.85" cy="123.04" rx="2.8" ry="2.8" fill="#cfcfcf"/>
<ellipse cx="590.65" cy="123.53" rx="2.8" ry="2.8" fill="#dfdfdf"/>
<ellipse cx="600.15" cy="123.53" rx="2.8" ry="2.8" fill="#dfdfdf"/>
<ellipse cx="358.55" cy="135.5" rx="2.8" ry="2.8" fill="#dfdfdf"/>
<ellipse cx="368.05" cy="135.5" rx="2.8" ry="2.8" fill="#dfdfdf"/>
<ellipse cx="377.95" cy="135.72" rx="2.8" ry="2.8" fill="#dfdfdf"/>
<ellipse cx="387.45" cy="135.72" rx="2.8" ry="2.8" fill="#dfdfdf"/>
<ellipse cx="401.45" cy="135.98" rx="2.8" ry="2.8" fill="#dfdfdf"/>
<ellipse cx="410.95" cy="135.98" rx="2.8" ry="2.8" fill="#dfdfdf"/>
<ellipse cx="443.35" cy="136.45" rx="2.8" ry="2.8" fill="#a6a6a6"/>
<ellipse cx="452.85" cy="136.45" rx="2.8" ry="2.8" fill="#a6a6a6"/>
<ellipse cx="485.35" cy="136.92" rx="2.8" ry="2.8" fill="#cfcfcf"/>
<ellipse cx="494.85" cy="136.92" rx="2.8" ry="2.8" fill="#cfcfcf"/>
<ellipse cx="528.35" cy="137.4" rx="2.8" ry="2.8" fill="#dfdfdf"/>
<ellipse cx="537.85" cy="137.4" rx="2.8" ry="2.8" fill="#dfdfdf"/>
<ellipse cx="547.35" cy="137.62" rx="2.8" ry="2.8" fill="#cfcfcf"/>
<ellipse cx="556.85" cy="137.62" rx="2.8" ry="2.8" fill="#cfcfcf"/>
<ellipse cx="570.15" cy="137.87" rx="2.8" ry="2.8" fill="#cfcfcf"/>
<ellipse cx="579.65" cy="137.87" rx="2.8" ry="2.8" fill="#cfcfcf"/>
<ellipse cx="590.65" cy="138.1" rx="2.8" ry="2.8" fill="#cfcfcf"/>
<ellipse cx="600.15" cy="138.1" rx="2.8" ry="2.8" fill="#cfcfcf"/>
<ellipse cx="358.55" cy="144.35" rx="2.8" ry="2.8" fill="#dfdfdf"/>
<ellipse cx="368.05" cy="144.35" rx="2.8" ry="2.8" fill="#dfdfdf"/>
<ellipse cx="377.95" cy="144.57" rx="2.8" ry="2.8" fill="#dfdfdf"/>
<ellipse cx="387.45" cy="144.57" rx="2.8" ry="2.8" fill="#dfdfdf"/>
<ellipse cx="462.35" cy="145.51" rx="2.8" ry="2.8" fill="#cfcfcf"/>
<ellipse cx="471.85" cy="145.51" rx="2.8" ry="2.8" fill="#cfcfcf"/>
<ellipse cx="504.35" cy="145.98" rx="2.8" ry="2.8" fill="#a6a6a6"/>
<ellipse cx="513.85" cy="145.98" rx="2.8" ry="2.8" fill="#a6a6a6"/>
<ellipse cx="528.35" cy="146.25" rx="2.8" ry="2.8" fill="#dfdfdf"/>
<ellipse cx="537.85" cy="146.25" rx="2.8" ry="2.8" fill="#dfdfdf"/>
<ellipse cx="547.35" cy="146.46" rx="2.8" ry="2.8" fill="#dfdfdf"/>
<ellipse cx="556.85" cy="146.46" rx="2.8" ry="2.8" fill="#dfdfdf"/>
<ellipse cx="570.15" cy="146.72" rx="2.8" ry="2.8" fill="#dfdfdf"/>
<ellipse cx="579.65" cy="146.72" rx="2.8" ry="2.8" fill="#dfdfdf"/>
<ellipse cx="358.55" cy="154" rx="6.15" ry="6.2" fill="url(#hg)"/>
<ellipse cx="368.05" cy="154" rx="6.15" ry="6.2" fill="url(#hg)"/>
<ellipse cx="358.55" cy="154" rx="3.35" ry="3.4" fill="#000000"/>
<ellipse cx="368.05" cy="154" rx="3.35" ry="3.4" fill="#000000"/>
<ellipse cx="401.45" cy="154.48" rx="2.8" ry="2.8" fill="#cfcfcf"/>
<ellipse cx="410.95" cy="154.48" rx="2.8" ry="2.8" fill="#cfcfcf"/>
<ellipse cx="419.95" cy="154.69" rx="2.8" ry="2.8" fill="#dfdfdf"/>
<ellipse cx="429.45" cy="154.69" rx="2.8" ry="2.8" fill="#dfdfdf"/>
<ellipse cx="462.35" cy="155.16" rx="2.8" ry="2.8" fill="#dfdfdf"/>
<ellipse cx="471.85" cy="155.16" rx="2.8" ry="2.8" fill="#dfdfdf"/>
</g>
<text x="344.7" y="62.5" font-size="9.6" font-family='"Liberation Serif", serif' font-weight="normal" fill="#000" text-anchor="middle" stroke="#000" stroke-width="0.12">A</text>
<text x="344.7" y="72.6" font-size="9.6" font-family='"Liberation Serif", serif' font-weight="normal" fill="#000" text-anchor="middle" stroke="#000" stroke-width="0.12">B</text>
<text x="344.7" y="81.6" font-size="9.6" font-family='"Liberation Serif", serif' font-weight="normal" fill="#000" text-anchor="middle" stroke="#000" stroke-width="0.12">C</text>
<text x="344.7" y="96.5" font-size="9.6" font-family='"Liberation Serif", serif' font-weight="normal" fill="#000" text-anchor="middle" stroke="#000" stroke-width="0.12">D</text>
<text x="344.7" y="105.2" font-size="9.6" font-family='"Liberation Serif", serif' font-weight="normal" fill="#000" text-anchor="middle" stroke="#000" stroke-width="0.12">E</text>
<text x="344.7" y="115.3" font-size="9.6" font-family='"Liberation Serif", serif' font-weight="normal" fill="#000" text-anchor="middle" stroke="#000" stroke-width="0.12">F</text>
<text x="344.7" y="124" font-size="9.6" font-family='"Liberation Serif", serif' font-weight="normal" fill="#000" text-anchor="middle" stroke="#000" stroke-width="0.12">G</text>
<text x="344.7" y="138.3" font-size="9.6" font-family='"Liberation Serif", serif' font-weight="normal" fill="#000" text-anchor="middle" stroke="#000" stroke-width="0.12">H</text>
<text x="344.7" y="146.7" font-size="9.6" font-family='"Liberation Serif", serif' font-weight="normal" fill="#000" text-anchor="middle" stroke="#000" stroke-width="0.12">I</text>
<text x="344.7" y="156.2" font-size="9.6" font-family='"Liberation Serif", serif' font-weight="normal" fill="#000" text-anchor="middle" stroke="#000" stroke-width="0.12">J</text>
<rect x="350.2" y="169" width="255" height="110.7" fill="#e5e5e5"/>
<g filter="url(#bl)">
<ellipse cx="357.25" cy="178.2" rx="6.9" ry="7.2" fill="url(#hg)"/>
<ellipse cx="366.75" cy="178.2" rx="6.9" ry="7.2" fill="url(#hg)"/>
<ellipse cx="357.25" cy="178.2" rx="4.1" ry="4.4" fill="#000000"/>
<ellipse cx="366.75" cy="178.2" rx="4.1" ry="4.4" fill="#000000"/>
<ellipse cx="376.65" cy="178.17" rx="2.8" ry="2.8" fill="#cacaca"/>
<ellipse cx="386.15" cy="178.17" rx="2.8" ry="2.8" fill="#cacaca"/>
<ellipse cx="399.85" cy="178.14" rx="2.8" ry="2.8" fill="#999999"/>
<ellipse cx="409.35" cy="178.14" rx="2.8" ry="2.8" fill="#999999"/>
<ellipse cx="419.25" cy="178.12" rx="2.8" ry="2.8" fill="#d5d5d5"/>
<ellipse cx="428.75" cy="178.12" rx="2.8" ry="2.8" fill="#d5d5d5"/>
<ellipse cx="442.55" cy="178.09" rx="2.8" ry="2.8" fill="#c7c7c7"/>
<ellipse cx="452.05" cy="178.09" rx="2.8" ry="2.8" fill="#c7c7c7"/>
<ellipse cx="461.75" cy="178.06" rx="2.8" ry="2.8" fill="#555555"/>
<ellipse cx="471.25" cy="178.06" rx="2.8" ry="2.8" fill="#555555"/>
<ellipse cx="484.35" cy="178.03" rx="2.8" ry="2.8" fill="#c7c7c7"/>
<ellipse cx="493.85" cy="178.03" rx="2.8" ry="2.8" fill="#c7c7c7"/>
<ellipse cx="503.65" cy="178.01" rx="2.8" ry="2.8" fill="#888888"/>
<ellipse cx="513.15" cy="178.01" rx="2.8" ry="2.8" fill="#888888"/>
<ellipse cx="527.45" cy="177.98" rx="2.8" ry="2.8" fill="#d5d5d5"/>
<ellipse cx="536.95" cy="177.98" rx="2.8" ry="2.8" fill="#d5d5d5"/>
<ellipse cx="546.35" cy="177.95" rx="2.8" ry="2.8" fill="#cacaca"/>
<ellipse cx="555.85" cy="177.95" rx="2.8" ry="2.8" fill="#cacaca"/>
<ellipse cx="569.05" cy="177.92" rx="2.8" ry="2.8" fill="#cacaca"/>
<ellipse cx="578.55" cy="177.92" rx="2.8" ry="2.8" fill="#cacaca"/>
<ellipse cx="588.35" cy="177.9" rx="6.9" ry="7.2" fill="url(#hg)"/>
<ellipse cx="597.85" cy="177.9" rx="6.9" ry="7.2" fill="url(#hg)"/>
<ellipse cx="588.35" cy="177.9" rx="4.1" ry="4.4" fill="#000000"/>
<ellipse cx="597.85" cy="177.9" rx="4.1" ry="4.4" fill="#000000"/>
<ellipse cx="376.65" cy="187.55" rx="2.8" ry="2.8" fill="#999999"/>
<ellipse cx="386.15" cy="187.55" rx="2.8" ry="2.8" fill="#999999"/>
<ellipse cx="399.85" cy="187.52" rx="5.7" ry="5.7" fill="url(#hg)"/>
<ellipse cx="409.35" cy="187.52" rx="5.7" ry="5.7" fill="url(#hg)"/>
<ellipse cx="399.85" cy="187.52" rx="2.9" ry="2.9" fill="#000000"/>
<ellipse cx="409.35" cy="187.52" rx="2.9" ry="2.9" fill="#000000"/>
<ellipse cx="419.25" cy="187.5" rx="2.8" ry="2.8" fill="#c4c4c4"/>
<ellipse cx="428.75" cy="187.5" rx="2.8" ry="2.8" fill="#c4c4c4"/>
<ellipse cx="442.55" cy="187.47" rx="2.8" ry="2.8" fill="#bdbdbd"/>
<ellipse cx="452.05" cy="187.47" rx="2.8" ry="2.8" fill="#bdbdbd"/>
<ellipse cx="461.75" cy="187.44" rx="2.8" ry="2.8" fill="#d5d5d5"/>
<ellipse cx="471.25" cy="187.44" rx="2.8" ry="2.8" fill="#d5d5d5"/>
<ellipse cx="484.35" cy="187.41" rx="2.8" ry="2.8" fill="#c4c4c4"/>
<ellipse cx="493.85" cy="187.41" rx="2.8" ry="2.8" fill="#c4c4c4"/>
<ellipse cx="503.65" cy="187.39" rx="2.8" ry="2.8" fill="#777777"/>
<ellipse cx="513.15" cy="187.39" rx="2.8" ry="2.8" fill="#777777"/>
<ellipse cx="527.45" cy="187.36" rx="2.8" ry="2.8" fill="#c7c7c7"/>
<ellipse cx="536.95" cy="187.36" rx="2.8" ry="2.8" fill="#c7c7c7"/>
<ellipse cx="546.35" cy="187.33" rx="7.7" ry="7.9" fill="url(#hg)"/>
<ellipse cx="555.85" cy="187.33" rx="7.7" ry="7.9" fill="url(#hg)"/>
<ellipse cx="546.35" cy="187.33" rx="4.9" ry="5.1" fill="#000000"/>
<ellipse cx="555.85" cy="187.33" rx="4.9" ry="5.1" fill="#000000"/>
<ellipse cx="569.05" cy="187.3" rx="2.8" ry="2.8" fill="#c7c7c7"/>
<ellipse cx="578.55" cy="187.3" rx="2.8" ry="2.8" fill="#c7c7c7"/>
<ellipse cx="376.65" cy="197.13" rx="2.8" ry="2.8" fill="#c4c4c4"/>
<ellipse cx="386.15" cy="197.13" rx="2.8" ry="2.8" fill="#c4c4c4"/>
<ellipse cx="399.85" cy="197.1" rx="2.8" ry="2.8" fill="#cacaca"/>
<ellipse cx="409.35" cy="197.1" rx="2.8" ry="2.8" fill="#cacaca"/>
<ellipse cx="419.25" cy="197.08" rx="2.8" ry="2.8" fill="#c4c4c4"/>
<ellipse cx="428.75" cy="197.08" rx="2.8" ry="2.8" fill="#c4c4c4"/>
<ellipse cx="442.55" cy="197.05" rx="2.8" ry="2.8" fill="#808080"/>
<ellipse cx="452.05" cy="197.05" rx="2.8" ry="2.8" fill="#808080"/>
<ellipse cx="461.75" cy="197.02" rx="2.8" ry="2.8" fill="#d5d5d5"/>
<ellipse cx="471.25" cy="197.02" rx="2.8" ry="2.8" fill="#d5d5d5"/>
<ellipse cx="484.35" cy="196.99" rx="2.8" ry="2.8" fill="#959595"/>
<ellipse cx="493.85" cy="196.99" rx="2.8" ry="2.8" fill="#959595"/>
<ellipse cx="503.65" cy="196.97" rx="2.8" ry="2.8" fill="#d5d5d5"/>
<ellipse cx="513.15" cy="196.97" rx="2.8" ry="2.8" fill="#d5d5d5"/>
<ellipse cx="527.45" cy="196.94" rx="2.8" ry="2.8" fill="#cacaca"/>
<ellipse cx="536.95" cy="196.94" rx="2.8" ry="2.8" fill="#cacaca"/>
<ellipse cx="546.35" cy="196.91" rx="6.9" ry="7.2" fill="url(#hg)"/>
<ellipse cx="555.85" cy="196.91" rx="6.9" ry="7.2" fill="url(#hg)"/>
<ellipse cx="546.35" cy="196.91" rx="4.1" ry="4.4" fill="#000000"/>
<ellipse cx="555.85" cy="196.91" rx="4.1" ry="4.4" fill="#000000"/>
<ellipse cx="569.05" cy="196.88" rx="2.8" ry="2.8" fill="#d1d1d1"/>
<ellipse cx="578.55" cy="196.88" rx="2.8" ry="2.8" fill="#d1d1d1"/>
<ellipse cx="357.25" cy="210.73" rx="5.7" ry="5.7" fill="url(#hg)"/>
<ellipse cx="366.75" cy="210.73" rx="5.7" ry="5.7" fill="url(#hg)"/>
<ellipse cx="357.25" cy="210.73" rx="2.9" ry="2.9" fill="#000000"/>
<ellipse cx="366.75" cy="210.73" rx="2.9" ry="2.9" fill="#000000"/>
<ellipse cx="376.65" cy="210.71" rx="2.8" ry="2.8" fill="#d1d1d1"/>
<ellipse cx="386.15" cy="210.71" rx="2.8" ry="2.8" fill="#d1d1d1"/>
<ellipse cx="399.85" cy="210.68" rx="2.8" ry="2.8" fill="#d3d3d3"/>
<ellipse cx="409.35" cy="210.68" rx="2.8" ry="2.8" fill="#d3d3d3"/>
<ellipse cx="419.25" cy="210.65" rx="2.8" ry="2.8" fill="#cacaca"/>
<ellipse cx="428.75" cy="210.65" rx="2.8" ry="2.8" fill="#cacaca"/>
<ellipse cx="442.55" cy="210.62" rx="5.7" ry="5.7" fill="url(#hg)"/>
<ellipse cx="452.05" cy="210.62" rx="5.7" ry="5.7" fill="url(#hg)"/>
<ellipse cx="442.55" cy="210.62" rx="2.9" ry="2.9" fill="#000000"/>
<ellipse cx="452.05" cy="210.62" rx="2.9" ry="2.9" fill="#000000"/>
<ellipse cx="461.75" cy="210.59" rx="2.8" ry="2.8" fill="#d5d5d5"/>
<ellipse cx="471.25" cy="210.59" rx="2.8" ry="2.8" fill="#d5d5d5"/>
<ellipse cx="484.35" cy="210.57" rx="2.8" ry="2.8" fill="#d1d1d1"/>
<ellipse cx="493.85" cy="210.57" rx="2.8" ry="2.8" fill="#d1d1d1"/>
<ellipse cx="503.65" cy="210.54" rx="6.15" ry="6.2" fill="url(#hg)"/>
<ellipse cx="513.15" cy="210.54" rx="6.15" ry="6.2" fill="url(#hg)"/>
<ellipse cx="503.65" cy="210.54" rx="3.35" ry="3.4" fill="#000000"/>
<ellipse cx="513.15" cy="210.54" rx="3.35" ry="3.4" fill="#000000"/>
<ellipse cx="527.45" cy="210.51" rx="2.8" ry="2.8" fill="#cacaca"/>
<ellipse cx="536.95" cy="210.51" rx="2.8" ry="2.8" fill="#cacaca"/>
<ellipse cx="546.35" cy="210.49" rx="2.8" ry="2.8" fill="#c7c7c7"/>
<ellipse cx="555.85" cy="210.49" rx="2.8" ry="2.8" fill="#c7c7c7"/>
<ellipse cx="569.05" cy="210.46" rx="2.8" ry="2.8" fill="#d1d1d1"/>
<ellipse cx="578.55" cy="210.46" rx="2.8" ry="2.8" fill="#d1d1d1"/>
<ellipse cx="588.35" cy="210.43" rx="2.8" ry="2.8" fill="#d5d5d5"/>
<ellipse cx="597.85" cy="210.43" rx="2.8" ry="2.8" fill="#d5d5d5"/>
<ellipse cx="357.25" cy="220.31" rx="2.8" ry="2.8" fill="#d3d3d3"/>
<ellipse cx="366.75" cy="220.31" rx="2.8" ry="2.8" fill="#d3d3d3"/>
<ellipse cx="376.65" cy="220.28" rx="2.8" ry="2.8" fill="#888888"/>
<ellipse cx="386.15" cy="220.28" rx="2.8" ry="2.8" fill="#888888"/>
<ellipse cx="399.85" cy="220.25" rx="2.8" ry="2.8" fill="#909090"/>
<ellipse cx="409.35" cy="220.25" rx="2.8" ry="2.8" fill="#909090"/>
<ellipse cx="419.25" cy="220.23" rx="6.9" ry="7.2" fill="url(#hg)"/>
<ellipse cx="428.75" cy="220.23" rx="6.9" ry="7.2" fill="url(#hg)"/>
<ellipse cx="419.25" cy="220.23" rx="4.1" ry="4.4" fill="#000000"/>
<ellipse cx="428.75" cy="220.23" rx="4.1" ry="4.4" fill="#000000"/>
<ellipse cx="442.55" cy="220.2" rx="2.8" ry="2.8" fill="#cacaca"/>
<ellipse cx="452.05" cy="220.2" rx="2.8" ry="2.8" fill="#cacaca"/>
<ellipse cx="461.75" cy="220.17" rx="2.8" ry="2.8" fill="#909090"/>
<ellipse cx="471.25" cy="220.17" rx="2.8" ry="2.8" fill="#909090"/>
<ellipse cx="484.35" cy="220.15" rx="2.8" ry="2.8" fill="#bababa"/>
<ellipse cx="493.85" cy="220.15" rx="2.8" ry="2.8" fill="#bababa"/>
<ellipse cx="503.65" cy="220.12" rx="2.8" ry="2.8" fill="#d7d7d7"/>
<ellipse cx="513.15" cy="220.12" rx="2.8" ry="2.8" fill="#d7d7d7"/>
<ellipse cx="527.45" cy="220.09" rx="2.8" ry="2.8" fill="#c7c7c7"/>
<ellipse cx="536.95" cy="220.09" rx="2.8" ry="2.8" fill="#c7c7c7"/>
<ellipse cx="546.35" cy="220.06" rx="2.8" ry="2.8" fill="#c7c7c7"/>
<ellipse cx="555.85" cy="220.06" rx="2.8" ry="2.8" fill="#c7c7c7"/>
<ellipse cx="569.05" cy="220.04" rx="2.8" ry="2.8" fill="#666666"/>
<ellipse cx="578.55" cy="220.04" rx="2.8" ry="2.8" fill="#666666"/>
<ellipse cx="588.35" cy="220.01" rx="2.8" ry="2.8" fill="#d3d3d3"/>
<ellipse cx="597.85" cy="220.01" rx="2.8" ry="2.8" fill="#d3d3d3"/>
<ellipse cx="357.25" cy="230.09" rx="2.8" ry="2.8" fill="#cecece"/>
<ellipse cx="366.75" cy="230.09" rx="2.8" ry="2.8" fill="#cecece"/>
<ellipse cx="376.65" cy="230.06" rx="2.8" ry="2.8" fill="#cacaca"/>
<ellipse cx="386.15" cy="230.06" rx="2.8" ry="2.8" fill="#cacaca"/>
<ellipse cx="399.85" cy="230.03" rx="2.8" ry="2.8" fill="#cacaca"/>
<ellipse cx="409.35" cy="230.03" rx="2.8" ry="2.8" fill="#cacaca"/>
<ellipse cx="419.25" cy="230.01" rx="2.8" ry="2.8" fill="#c0c0c0"/>
<ellipse cx="428.75" cy="230.01" rx="2.8" ry="2.8" fill="#c0c0c0"/>
<ellipse cx="442.55" cy="229.98" rx="2.8" ry="2.8" fill="#bfbfbf"/>
<ellipse cx="452.05" cy="229.98" rx="2.8" ry="2.8" fill="#bfbfbf"/>
<ellipse cx="461.75" cy="229.95" rx="2.8" ry="2.8" fill="#cacaca"/>
<ellipse cx="471.25" cy="229.95" rx="2.8" ry="2.8" fill="#cacaca"/>
<ellipse cx="484.35" cy="229.92" rx="2.8" ry="2.8" fill="#999999"/>
<ellipse cx="493.85" cy="229.92" rx="2.8" ry="2.8" fill="#999999"/>
<ellipse cx="503.65" cy="229.9" rx="2.8" ry="2.8" fill="#cacaca"/>
<ellipse cx="513.15" cy="229.9" rx="2.8" ry="2.8" fill="#cacaca"/>
<ellipse cx="527.45" cy="229.87" rx="2.8" ry="2.8" fill="#d1d1d1"/>
<ellipse cx="536.95" cy="229.87" rx="2.8" ry="2.8" fill="#d1d1d1"/>
<ellipse cx="546.35" cy="229.84" rx="2.8" ry="2.8" fill="#d1d1d1"/>
<ellipse cx="555.85" cy="229.84" rx="2.8" ry="2.8" fill="#d1d1d1"/>
<ellipse cx="569.05" cy="229.81" rx="2.8" ry="2.8" fill="#cacaca"/>
<ellipse cx="578.55" cy="229.81" rx="2.8" ry="2.8" fill="#cacaca"/>
<ellipse cx="588.35" cy="229.79" rx="5.7" ry="5.7" fill="url(#hg)"/>
<ellipse cx="597.85" cy="229.79" rx="5.7" ry="5.7" fill="url(#hg)"/>
<ellipse cx="588.35" cy="229.79" rx="2.9" ry="2.9" fill="#000000"/>
<ellipse cx="597.85" cy="229.79" rx="2.9" ry="2.9" fill="#000000"/>
<ellipse cx="357.25" cy="239.37" rx="2.8" ry="2.8" fill="#d1d1d1"/>
<ellipse cx="366.75" cy="239.37" rx="2.8" ry="2.8" fill="#d1d1d1"/>
<ellipse cx="376.65" cy="239.34" rx="2.8" ry="2.8" fill="#d3d3d3"/>
<ellipse cx="386.15" cy="239.34" rx="2.8" ry="2.8" fill="#d3d3d3"/>
<ellipse cx="399.85" cy="239.31" rx="5.7" ry="5.7" fill="url(#hg)"/>
<ellipse cx="409.35" cy="239.31" rx="5.7" ry="5.7" fill="url(#hg)"/>
<ellipse cx="399.85" cy="239.31" rx="2.9" ry="2.9" fill="#000000"/>
<ellipse cx="409.35" cy="239.31" rx="2.9" ry="2.9" fill="#000000"/>
<ellipse cx="419.25" cy="239.29" rx="2.8" ry="2.8" fill="#888888"/>
<ellipse cx="428.75" cy="239.29" rx="2.8" ry="2.8" fill="#888888"/>
<ellipse cx="442.55" cy="239.26" rx="2.8" ry="2.8" fill="#cacaca"/>
<ellipse cx="452.05" cy="239.26" rx="2.8" ry="2.8" fill="#cacaca"/>
<ellipse cx="461.75" cy="239.23" rx="2.8" ry="2.8" fill="#999999"/>
<ellipse cx="471.25" cy="239.23" rx="2.8" ry="2.8" fill="#999999"/>
<ellipse cx="484.35" cy="239.2" rx="2.8" ry="2.8" fill="#c0c0c0"/>
<ellipse cx="493.85" cy="239.2" rx="2.8" ry="2.8" fill="#c0c0c0"/>
<ellipse cx="503.65" cy="239.18" rx="2.8" ry="2.8" fill="#c7c7c7"/>
<ellipse cx="513.15" cy="239.18" rx="2.8" ry="2.8" fill="#c7c7c7"/>
<ellipse cx="527.45" cy="239.15" rx="2.8" ry="2.8" fill="#d1d1d1"/>
<ellipse cx="536.95" cy="239.15" rx="2.8" ry="2.8" fill="#d1d1d1"/>
<ellipse cx="546.35" cy="239.12" rx="2.8" ry="2.8" fill="#888888"/>
<ellipse cx="555.85" cy="239.12" rx="2.8" ry="2.8" fill="#888888"/>
<ellipse cx="569.05" cy="239.09" rx="2.8" ry="2.8" fill="#cacaca"/>
<ellipse cx="578.55" cy="239.09" rx="2.8" ry="2.8" fill="#cacaca"/>
<ellipse cx="588.35" cy="239.07" rx="2.8" ry="2.8" fill="#c0c0c0"/>
<ellipse cx="597.85" cy="239.07" rx="2.8" ry="2.8" fill="#c0c0c0"/>
<ellipse cx="357.25" cy="253.84" rx="2.8" ry="2.8" fill="#c0c0c0"/>
<ellipse cx="366.75" cy="253.84" rx="2.8" ry="2.8" fill="#c0c0c0"/>
<ellipse cx="376.65" cy="253.81" rx="2.8" ry="2.8" fill="#c4c4c4"/>
<ellipse cx="386.15" cy="253.81" rx="2.8" ry="2.8" fill="#c4c4c4"/>
<ellipse cx="399.85" cy="253.78" rx="2.8" ry="2.8" fill="#c0c0c0"/>
<ellipse cx="409.35" cy="253.78" rx="2.8" ry="2.8" fill="#c0c0c0"/>
<ellipse cx="419.25" cy="253.76" rx="2.8" ry="2.8" fill="#d5d5d5"/>
<ellipse cx="428.75" cy="253.76" rx="2.8" ry="2.8" fill="#d5d5d5"/>
<ellipse cx="442.55" cy="253.73" rx="5.7" ry="5.7" fill="url(#hg)"/>
<ellipse cx="452.05" cy="253.73" rx="5.7" ry="5.7" fill="url(#hg)"/>
<ellipse cx="442.55" cy="253.73" rx="2.9" ry="2.9" fill="#000000"/>
<ellipse cx="452.05" cy="253.73" rx="2.9" ry="2.9" fill="#000000"/>
<ellipse cx="461.75" cy="253.7" rx="2.8" ry="2.8" fill="#cecece"/>
<ellipse cx="471.25" cy="253.7" rx="2.8" ry="2.8" fill="#cecece"/>
<ellipse cx="484.35" cy="253.67" rx="2.8" ry="2.8" fill="#c4c4c4"/>
<ellipse cx="493.85" cy="253.67" rx="2.8" ry="2.8" fill="#c4c4c4"/>
<ellipse cx="503.65" cy="253.65" rx="2.8" ry="2.8" fill="#c4c4c4"/>
<ellipse cx="513.15" cy="253.65" rx="2.8" ry="2.8" fill="#c4c4c4"/>
<ellipse cx="527.45" cy="253.62" rx="2.8" ry="2.8" fill="#cacaca"/>
<ellipse cx="536.95" cy="253.62" rx="2.8" ry="2.8" fill="#cacaca"/>
<ellipse cx="546.35" cy="253.59" rx="2.8" ry="2.8" fill="#909090"/>
<ellipse cx="555.85" cy="253.59" rx="2.8" ry="2.8" fill="#909090"/>
<ellipse cx="569.05" cy="253.56" rx="2.8" ry="2.8" fill="#888888"/>
<ellipse cx="578.55" cy="253.56" rx="2.8" ry="2.8" fill="#888888"/>
<ellipse cx="588.35" cy="253.54" rx="2.8" ry="2.8" fill="#999999"/>
<ellipse cx="597.85" cy="253.54" rx="2.8" ry="2.8" fill="#999999"/>
<ellipse cx="357.25" cy="262.62" rx="2.8" ry="2.8" fill="#707070"/>
<ellipse cx="366.75" cy="262.62" rx="2.8" ry="2.8" fill="#707070"/>
<ellipse cx="376.65" cy="262.59" rx="2.8" ry="2.8" fill="#bababa"/>
<ellipse cx="386.15" cy="262.59" rx="2.8" ry="2.8" fill="#bababa"/>
<ellipse cx="399.85" cy="262.56" rx="2.8" ry="2.8" fill="#c7c7c7"/>
<ellipse cx="409.35" cy="262.56" rx="2.8" ry="2.8" fill="#c7c7c7"/>
<ellipse cx="419.25" cy="262.54" rx="2.8" ry="2.8" fill="#c7c7c7"/>
<ellipse cx="428.75" cy="262.54" rx="2.8" ry="2.8" fill="#c7c7c7"/>
<ellipse cx="442.55" cy="262.51" rx="2.8" ry="2.8" fill="#d1d1d1"/>
<ellipse cx="452.05" cy="262.51" rx="2.8" ry="2.8" fill="#d1d1d1"/>
<ellipse cx="461.75" cy="262.48" rx="2.8" ry="2.8" fill="#555555"/>
<ellipse cx="471.25" cy="262.48" rx="2.8" ry="2.8" fill="#555555"/>
<ellipse cx="484.35" cy="262.46" rx="2.8" ry="2.8" fill="#d3d3d3"/>
<ellipse cx="493.85" cy="262.46" rx="2.8" ry="2.8" fill="#d3d3d3"/>
<ellipse cx="503.65" cy="262.43" rx="2.8" ry="2.8" fill="#777777"/>
<ellipse cx="513.15" cy="262.43" rx="2.8" ry="2.8" fill="#777777"/>
<ellipse cx="527.45" cy="262.4" rx="2.8" ry="2.8" fill="#cacaca"/>
<ellipse cx="536.95" cy="262.4" rx="2.8" ry="2.8" fill="#cacaca"/>
<ellipse cx="546.35" cy="262.37" rx="2.8" ry="2.8" fill="#c4c4c4"/>
<ellipse cx="555.85" cy="262.37" rx="2.8" ry="2.8" fill="#c4c4c4"/>
<ellipse cx="569.05" cy="262.35" rx="2.8" ry="2.8" fill="#cacaca"/>
<ellipse cx="578.55" cy="262.35" rx="2.8" ry="2.8" fill="#cacaca"/>
<ellipse cx="357.25" cy="272.2" rx="6.9" ry="7.2" fill="url(#hg)"/>
<ellipse cx="366.75" cy="272.2" rx="6.9" ry="7.2" fill="url(#hg)"/>
<ellipse cx="357.25" cy="272.2" rx="4.1" ry="4.4" fill="#000000"/>
<ellipse cx="366.75" cy="272.2" rx="4.1" ry="4.4" fill="#000000"/>
<ellipse cx="399.85" cy="272.14" rx="5.7" ry="5.7" fill="url(#hg)"/>
<ellipse cx="409.35" cy="272.14" rx="5.7" ry="5.7" fill="url(#hg)"/>
<ellipse cx="399.85" cy="272.14" rx="2.9" ry="2.9" fill="#000000"/>
<ellipse cx="409.35" cy="272.14" rx="2.9" ry="2.9" fill="#000000"/>
<ellipse cx="419.25" cy="272.12" rx="2.8" ry="2.8" fill="#bfbfbf"/>
<ellipse cx="428.75" cy="272.12" rx="2.8" ry="2.8" fill="#bfbfbf"/>
<ellipse cx="442.55" cy="272.09" rx="2.8" ry="2.8" fill="#c4c4c4"/>
<ellipse cx="452.05" cy="272.09" rx="2.8" ry="2.8" fill="#c4c4c4"/>
<ellipse cx="461.75" cy="272.06" rx="2.8" ry="2.8" fill="#c0c0c0"/>
<ellipse cx="471.25" cy="272.06" rx="2.8" ry="2.8" fill="#c0c0c0"/>
</g>
<text x="344.7" y="180.9" font-size="9.6" font-family='"Liberation Serif", serif' font-weight="normal" fill="#000" text-anchor="middle" stroke="#000" stroke-width="0.12">A</text>
<text x="344.7" y="191" font-size="9.6" font-family='"Liberation Serif", serif' font-weight="normal" fill="#000" text-anchor="middle" stroke="#000" stroke-width="0.12">B</text>
<text x="344.7" y="200" font-size="9.6" font-family='"Liberation Serif", serif' font-weight="normal" fill="#000" text-anchor="middle" stroke="#000" stroke-width="0.12">C</text>
<text x="344.7" y="214.9" font-size="9.6" font-family='"Liberation Serif", serif' font-weight="normal" fill="#000" text-anchor="middle" stroke="#000" stroke-width="0.12">D</text>
<text x="344.7" y="223.6" font-size="9.6" font-family='"Liberation Serif", serif' font-weight="normal" fill="#000" text-anchor="middle" stroke="#000" stroke-width="0.12">E</text>
<text x="344.7" y="233.7" font-size="9.6" font-family='"Liberation Serif", serif' font-weight="normal" fill="#000" text-anchor="middle" stroke="#000" stroke-width="0.12">F</text>
<text x="344.7" y="242.4" font-size="9.6" font-family='"Liberation Serif", serif' font-weight="normal" fill="#000" text-anchor="middle" stroke="#000" stroke-width="0.12">G</text>
<text x="344.7" y="256.7" font-size="9.6" font-family='"Liberation Serif", serif' font-weight="normal" fill="#000" text-anchor="middle" stroke="#000" stroke-width="0.12">H</text>
<text x="344.7" y="265.1" font-size="9.6" font-family='"Liberation Serif", serif' font-weight="normal" fill="#000" text-anchor="middle" stroke="#000" stroke-width="0.12">I</text>
<text x="344.7" y="274.6" font-size="9.6" font-family='"Liberation Serif", serif' font-weight="normal" fill="#000" text-anchor="middle" stroke="#000" stroke-width="0.12">J</text>
<rect x="350.2" y="286.6" width="255" height="110.8" fill="#e5e5e5"/>
<g filter="url(#bl)">
<ellipse cx="356.85" cy="295.2" rx="6.9" ry="7.2" fill="url(#hg)"/>
<ellipse cx="366.35" cy="295.2" rx="6.9" ry="7.2" fill="url(#hg)"/>
<ellipse cx="356.85" cy="295.2" rx="4.1" ry="4.4" fill="#000000"/>
<ellipse cx="366.35" cy="295.2" rx="4.1" ry="4.4" fill="#000000"/>
<ellipse cx="399.45" cy="295.11" rx="2.8" ry="2.8" fill="#dfdfdf"/>
<ellipse cx="408.95" cy="295.11" rx="2.8" ry="2.8" fill="#dfdfdf"/>
<ellipse cx="461.35" cy="294.97" rx="2.8" ry="2.8" fill="#cfcfcf"/>
<ellipse cx="470.85" cy="294.97" rx="2.8" ry="2.8" fill="#cfcfcf"/>
<ellipse cx="483.95" cy="294.93" rx="2.8" ry="2.8" fill="#dfdfdf"/>
<ellipse cx="493.45" cy="294.93" rx="2.8" ry="2.8" fill="#dfdfdf"/>
<ellipse cx="503.25" cy="294.88" rx="2.8" ry="2.8" fill="#dfdfdf"/>
<ellipse cx="512.75" cy="294.88" rx="2.8" ry="2.8" fill="#dfdfdf"/>
<ellipse cx="568.65" cy="294.74" rx="2.8" ry="2.8" fill="#dfdfdf"/>
<ellipse cx="578.15" cy="294.74" rx="2.8" ry="2.8" fill="#dfdfdf"/>
<ellipse cx="587.95" cy="294.7" rx="6.9" ry="7.2" fill="url(#hg)"/>
<ellipse cx="597.45" cy="294.7" rx="6.9" ry="7.2" fill="url(#hg)"/>
<ellipse cx="587.95" cy="294.7" rx="4.1" ry="4.4" fill="#000000"/>
<ellipse cx="597.45" cy="294.7" rx="4.1" ry="4.4" fill="#000000"/>
<ellipse cx="376.25" cy="304.51" rx="2.8" ry="2.8" fill="#dfdfdf"/>
<ellipse cx="385.75" cy="304.51" rx="2.8" ry="2.8" fill="#dfdfdf"/>
<ellipse cx="399.45" cy="304.46" rx="2.8" ry="2.8" fill="#bfbfbf"/>
<ellipse cx="408.95" cy="304.46" rx="2.8" ry="2.8" fill="#bfbfbf"/>
<ellipse cx="442.15" cy="304.37" rx="2.8" ry="2.8" fill="#dfdfdf"/>
<ellipse cx="451.65" cy="304.37" rx="2.8" ry="2.8" fill="#dfdfdf"/>
<ellipse cx="483.95" cy="304.28" rx="2.8" ry="2.8" fill="#dfdfdf"/>
<ellipse cx="493.45" cy="304.28" rx="2.8" ry="2.8" fill="#dfdfdf"/>
<ellipse cx="503.25" cy="304.23" rx="2.8" ry="2.8" fill="#dfdfdf"/>
<ellipse cx="512.75" cy="304.23" rx="2.8" ry="2.8" fill="#dfdfdf"/>
<ellipse cx="527.05" cy="304.18" rx="2.8" ry="2.8" fill="#dfdfdf"/>
<ellipse cx="536.55" cy="304.18" rx="2.8" ry="2.8" fill="#dfdfdf"/>
<ellipse cx="545.95" cy="304.14" rx="6.9" ry="7.2" fill="url(#hg)"/>
<ellipse cx="555.45" cy="304.14" rx="6.9" ry="7.2" fill="url(#hg)"/>
<ellipse cx="545.95" cy="304.14" rx="4.1" ry="4.4" fill="#000000"/>
<ellipse cx="555.45" cy="304.14" rx="4.1" ry="4.4" fill="#000000"/>
<ellipse cx="568.65" cy="304.09" rx="2.8" ry="2.8" fill="#dfdfdf"/>
<ellipse cx="578.15" cy="304.09" rx="2.8" ry="2.8" fill="#dfdfdf"/>
<ellipse cx="442.15" cy="313.92" rx="2.8" ry="2.8" fill="#bfbfbf"/>
<ellipse cx="451.65" cy="313.92" rx="2.8" ry="2.8" fill="#bfbfbf"/>
<ellipse cx="483.95" cy="313.82" rx="2.8" ry="2.8" fill="#dfdfdf"/>
<ellipse cx="493.45" cy="313.82" rx="2.8" ry="2.8" fill="#dfdfdf"/>
<ellipse cx="568.65" cy="313.64" rx="2.8" ry="2.8" fill="#dfdfdf"/>
<ellipse cx="578.15" cy="313.64" rx="2.8" ry="2.8" fill="#dfdfdf"/>
<ellipse cx="418.85" cy="327.49" rx="2.8" ry="2.8" fill="#dfdfdf"/>
<ellipse cx="428.35" cy="327.49" rx="2.8" ry="2.8" fill="#dfdfdf"/>
<ellipse cx="442.15" cy="327.44" rx="2.8" ry="2.8" fill="#bfbfbf"/>
<ellipse cx="451.65" cy="327.44" rx="2.8" ry="2.8" fill="#bfbfbf"/>
<ellipse cx="503.25" cy="327.31" rx="2.8" ry="2.8" fill="#cfcfcf"/>
<ellipse cx="512.75" cy="327.31" rx="2.8" ry="2.8" fill="#cfcfcf"/>
<ellipse cx="376.25" cy="337.13" rx="2.8" ry="2.8" fill="#bfbfbf"/>
<ellipse cx="385.75" cy="337.13" rx="2.8" ry="2.8" fill="#bfbfbf"/>
<ellipse cx="399.45" cy="337.08" rx="2.8" ry="2.8" fill="#dfdfdf"/>
<ellipse cx="408.95" cy="337.08" rx="2.8" ry="2.8" fill="#dfdfdf"/>
<ellipse cx="418.85" cy="337.04" rx="2.8" ry="2.8" fill="#dfdfdf"/>
<ellipse cx="428.35" cy="337.04" rx="2.8" ry="2.8" fill="#dfdfdf"/>
<ellipse cx="461.35" cy="336.95" rx="2.8" ry="2.8" fill="#dfdfdf"/>
<ellipse cx="470.85" cy="336.95" rx="2.8" ry="2.8" fill="#dfdfdf"/>
<ellipse cx="483.95" cy="336.9" rx="2.8" ry="2.8" fill="#dfdfdf"/>
<ellipse cx="493.45" cy="336.9" rx="2.8" ry="2.8" fill="#dfdfdf"/>
<ellipse cx="527.05" cy="336.81" rx="2.8" ry="2.8" fill="#dfdfdf"/>
<ellipse cx="536.55" cy="336.81" rx="2.8" ry="2.8" fill="#dfdfdf"/>
<ellipse cx="545.95" cy="336.77" rx="2.8" ry="2.8" fill="#dfdfdf"/>
<ellipse cx="555.45" cy="336.77" rx="2.8" ry="2.8" fill="#dfdfdf"/>
<ellipse cx="568.65" cy="336.72" rx="2.8" ry="2.8" fill="#cfcfcf"/>
<ellipse cx="578.15" cy="336.72" rx="2.8" ry="2.8" fill="#cfcfcf"/>
<ellipse cx="356.85" cy="346.92" rx="2.8" ry="2.8" fill="#dfdfdf"/>
<ellipse cx="366.35" cy="346.92" rx="2.8" ry="2.8" fill="#dfdfdf"/>
<ellipse cx="587.95" cy="346.42" rx="2.8" ry="2.8" fill="#bfbfbf"/>
<ellipse cx="597.45" cy="346.42" rx="2.8" ry="2.8" fill="#bfbfbf"/>
<ellipse cx="399.45" cy="356.08" rx="2.8" ry="2.8" fill="#bfbfbf"/>
<ellipse cx="408.95" cy="356.08" rx="2.8" ry="2.8" fill="#bfbfbf"/>
<ellipse cx="418.85" cy="356.04" rx="2.8" ry="2.8" fill="#dfdfdf"/>
<ellipse cx="428.35" cy="356.04" rx="2.8" ry="2.8" fill="#dfdfdf"/>
<ellipse cx="483.95" cy="355.9" rx="2.8" ry="2.8" fill="#dfdfdf"/>
<ellipse cx="493.45" cy="355.9" rx="2.8" ry="2.8" fill="#dfdfdf"/>
<ellipse cx="545.95" cy="355.77" rx="2.8" ry="2.8" fill="#dfdfdf"/>
<ellipse cx="555.45" cy="355.77" rx="2.8" ry="2.8" fill="#dfdfdf"/>
<ellipse cx="587.95" cy="355.68" rx="2.8" ry="2.8" fill="#dfdfdf"/>
<ellipse cx="597.45" cy="355.68" rx="2.8" ry="2.8" fill="#dfdfdf"/>
<ellipse cx="356.85" cy="370.6" rx="2.8" ry="2.8" fill="#dfdfdf"/>
<ellipse cx="366.35" cy="370.6" rx="2.8" ry="2.8" fill="#dfdfdf"/>
<ellipse cx="399.45" cy="370.51" rx="2.8" ry="2.8" fill="#dfdfdf"/>
<ellipse cx="408.95" cy="370.51" rx="2.8" ry="2.8" fill="#dfdfdf"/>
<ellipse cx="442.15" cy="370.41" rx="2.8" ry="2.8" fill="#bfbfbf"/>
<ellipse cx="451.65" cy="370.41" rx="2.8" ry="2.8" fill="#bfbfbf"/>
<ellipse cx="483.95" cy="370.32" rx="2.8" ry="2.8" fill="#dfdfdf"/>
<ellipse cx="493.45" cy="370.32" rx="2.8" ry="2.8" fill="#dfdfdf"/>
<ellipse cx="545.95" cy="370.19" rx="2.8" ry="2.8" fill="#dfdfdf"/>
<ellipse cx="555.45" cy="370.19" rx="2.8" ry="2.8" fill="#dfdfdf"/>
<ellipse cx="568.65" cy="370.14" rx="2.8" ry="2.8" fill="#cfcfcf"/>
<ellipse cx="578.15" cy="370.14" rx="2.8" ry="2.8" fill="#cfcfcf"/>
<ellipse cx="587.95" cy="370.1" rx="2.8" ry="2.8" fill="#dfdfdf"/>
<ellipse cx="597.45" cy="370.1" rx="2.8" ry="2.8" fill="#dfdfdf"/>
<ellipse cx="356.85" cy="379.35" rx="2.8" ry="2.8" fill="#dfdfdf"/>
<ellipse cx="366.35" cy="379.35" rx="2.8" ry="2.8" fill="#dfdfdf"/>
<ellipse cx="376.25" cy="379.31" rx="2.8" ry="2.8" fill="#dfdfdf"/>
<ellipse cx="385.75" cy="379.31" rx="2.8" ry="2.8" fill="#dfdfdf"/>
<ellipse cx="461.35" cy="379.13" rx="2.8" ry="2.8" fill="#dfdfdf"/>
<ellipse cx="470.85" cy="379.13" rx="2.8" ry="2.8" fill="#dfdfdf"/>
<ellipse cx="483.95" cy="379.08" rx="2.8" ry="2.8" fill="#dfdfdf"/>
<ellipse cx="493.45" cy="379.08" rx="2.8" ry="2.8" fill="#dfdfdf"/>
<ellipse cx="503.25" cy="379.03" rx="2.8" ry="2.8" fill="#cfcfcf"/>
<ellipse cx="512.75" cy="379.03" rx="2.8" ry="2.8" fill="#cfcfcf"/>
<ellipse cx="356.85" cy="388.9" rx="6.9" ry="7.2" fill="url(#hg)"/>
<ellipse cx="366.35" cy="388.9" rx="6.9" ry="7.2" fill="url(#hg)"/>
<ellipse cx="356.85" cy="388.9" rx="4.1" ry="4.4" fill="#000000"/>
<ellipse cx="366.35" cy="388.9" rx="4.1" ry="4.4" fill="#000000"/>
<ellipse cx="399.45" cy="388.81" rx="2.8" ry="2.8" fill="#dfdfdf"/>
<ellipse cx="408.95" cy="388.81" rx="2.8" ry="2.8" fill="#dfdfdf"/>
<ellipse cx="418.85" cy="388.77" rx="2.8" ry="2.8" fill="#dfdfdf"/>
<ellipse cx="428.35" cy="388.77" rx="2.8" ry="2.8" fill="#dfdfdf"/>
<ellipse cx="461.35" cy="388.67" rx="2.8" ry="2.8" fill="#dfdfdf"/>
<ellipse cx="470.85" cy="388.67" rx="2.8" ry="2.8" fill="#dfdfdf"/>
<ellipse cx="546.3" cy="313.6" rx="2.7" ry="2.7" fill="#333"/>
<ellipse cx="555.9" cy="313.6" rx="2.7" ry="2.7" fill="#777"/>
</g>
<text x="344.7" y="298.6" font-size="9.6" font-family='"Liberation Serif", serif' font-weight="normal" fill="#000" text-anchor="middle" stroke="#000" stroke-width="0.12">A</text>
<text x="344.7" y="308.7" font-size="9.6" font-family='"Liberation Serif", serif' font-weight="normal" fill="#000" text-anchor="middle" stroke="#000" stroke-width="0.12">B</text>
<text x="344.7" y="317.7" font-size="9.6" font-family='"Liberation Serif", serif' font-weight="normal" fill="#000" text-anchor="middle" stroke="#000" stroke-width="0.12">C</text>
<text x="344.7" y="332.6" font-size="9.6" font-family='"Liberation Serif", serif' font-weight="normal" fill="#000" text-anchor="middle" stroke="#000" stroke-width="0.12">D</text>
<text x="344.7" y="341.3" font-size="9.6" font-family='"Liberation Serif", serif' font-weight="normal" fill="#000" text-anchor="middle" stroke="#000" stroke-width="0.12">E</text>
<text x="344.7" y="351.4" font-size="9.6" font-family='"Liberation Serif", serif' font-weight="normal" fill="#000" text-anchor="middle" stroke="#000" stroke-width="0.12">F</text>
<text x="344.7" y="360.1" font-size="9.6" font-family='"Liberation Serif", serif' font-weight="normal" fill="#000" text-anchor="middle" stroke="#000" stroke-width="0.12">G</text>
<text x="344.7" y="374.4" font-size="9.6" font-family='"Liberation Serif", serif' font-weight="normal" fill="#000" text-anchor="middle" stroke="#000" stroke-width="0.12">H</text>
<text x="344.7" y="382.8" font-size="9.6" font-family='"Liberation Serif", serif' font-weight="normal" fill="#000" text-anchor="middle" stroke="#000" stroke-width="0.12">I</text>
<text x="344.7" y="392.3" font-size="9.6" font-family='"Liberation Serif", serif' font-weight="normal" fill="#000" text-anchor="middle" stroke="#000" stroke-width="0.12">J</text>
<text transform="translate(2,469.9) scale(0.94,1)" font-size="37.5" font-family='"Liberation Sans", sans-serif' font-weight="normal" fill="#111" text-anchor="start">B</text>
<rect x="110" y="549.47" width="13.4" height="52.93" fill="#ffffff" stroke="#000" stroke-width="2"/>
<rect x="134" y="549.47" width="13.4" height="52.93" fill="#ffffff" stroke="#000" stroke-width="2"/>
<line x1="164.5" y1="546.76" x2="164.5" y2="543.5" stroke="#484848" stroke-width="1"/>
<line x1="160.9" y1="543.5" x2="168.5" y2="543.5" stroke="#484848" stroke-width="1.05"/>
<rect x="158" y="547.76" width="13.4" height="54.64" fill="#ffffff" stroke="#000" stroke-width="2"/>
<line x1="188.5" y1="536.06" x2="188.5" y2="514.5" stroke="#484848" stroke-width="1"/>
<line x1="184.9" y1="514.5" x2="192.5" y2="514.5" stroke="#484848" stroke-width="1.05"/>
<rect x="182" y="537.06" width="13.4" height="65.34" fill="#ffffff" stroke="#000" stroke-width="2"/>
<rect x="206" y="549.47" width="13.4" height="52.93" fill="#b4b4b4" stroke="#000" stroke-width="2"/>
<line x1="236.5" y1="541.62" x2="236.5" y2="528.5" stroke="#484848" stroke-width="1"/>
<line x1="232.9" y1="528.5" x2="240.5" y2="528.5" stroke="#484848" stroke-width="1.05"/>
<rect x="230" y="542.62" width="13.4" height="59.78" fill="#b4b4b4" stroke="#000" stroke-width="2"/>
<line x1="260.5" y1="539.91" x2="260.5" y2="528.5" stroke="#484848" stroke-width="1"/>
<line x1="256.9" y1="528.5" x2="264.5" y2="528.5" stroke="#484848" stroke-width="1.05"/>
<rect x="254" y="540.91" width="13.4" height="61.49" fill="#b4b4b4" stroke="#000" stroke-width="2"/>
<line x1="284.5" y1="513.38" x2="284.5" y2="493.5" stroke="#484848" stroke-width="1"/>
<line x1="280.9" y1="493.5" x2="288.5" y2="493.5" stroke="#484848" stroke-width="1.05"/>
<rect x="278" y="514.38" width="13.4" height="88.02" fill="#b4b4b4" stroke="#000" stroke-width="2"/>
<line x1="100.5" y1="472.9" x2="100.5" y2="603.4" stroke="#000" stroke-width="2"/>
<line x1="94.5" y1="602.4" x2="301" y2="602.4" stroke="#000" stroke-width="2"/>
<line x1="94.5" y1="602.4" x2="100.5" y2="602.4" stroke="#000" stroke-width="2"/>
<text transform="translate(93,605.6) scale(1.12,1)" font-size="8.7" font-family='"Liberation Sans", sans-serif' font-weight="bold" fill="#111" text-anchor="end">0</text>
<line x1="94.5" y1="559.6" x2="100.5" y2="559.6" stroke="#000" stroke-width="2"/>
<text transform="translate(93,562.8) scale(1.12,1)" font-size="8.7" font-family='"Liberation Sans", sans-serif' font-weight="bold" fill="#111" text-anchor="end">1</text>
<line x1="94.5" y1="516.8" x2="100.5" y2="516.8" stroke="#000" stroke-width="2"/>
<text transform="translate(93,520) scale(1.12,1)" font-size="8.7" font-family='"Liberation Sans", sans-serif' font-weight="bold" fill="#111" text-anchor="end">2</text>
<line x1="94.5" y1="474" x2="100.5" y2="474" stroke="#000" stroke-width="2"/>
<text transform="translate(93,477.2) scale(1.12,1)" font-size="8.7" font-family='"Liberation Sans", sans-serif' font-weight="bold" fill="#111" text-anchor="end">3</text>
<line x1="116.7" y1="602.4" x2="116.7" y2="608" stroke="#000" stroke-width="2"/>
<line x1="140.7" y1="602.4" x2="140.7" y2="608" stroke="#000" stroke-width="2"/>
<line x1="164.7" y1="602.4" x2="164.7" y2="608" stroke="#000" stroke-width="2"/>
<line x1="188.7" y1="602.4" x2="188.7" y2="608" stroke="#000" stroke-width="2"/>
<line x1="212.7" y1="602.4" x2="212.7" y2="608" stroke="#000" stroke-width="2"/>
<line x1="236.7" y1="602.4" x2="236.7" y2="608" stroke="#000" stroke-width="2"/>
<line x1="260.7" y1="602.4" x2="260.7" y2="608" stroke="#000" stroke-width="2"/>
<line x1="284.7" y1="602.4" x2="284.7" y2="608" stroke="#000" stroke-width="2"/>
<polyline points="212.4,485.8 212.4,478.6 284.6,478.6 284.6,485.8" fill="none" stroke="#333" stroke-width="1.3"/>
<path d="M248.5 466.45L248.5 472.55M251.14 467.98L245.86 471.02M251.14 471.02L245.86 467.98" stroke="#111" stroke-width="1.45" fill="none"/>
<circle cx="248.5" cy="469.5" r="1.3" fill="#111"/>
<text transform="translate(83,538.7) rotate(-90)" font-size="10.6" font-family='"Liberation Sans", sans-serif' font-weight="bold" fill="#111" text-anchor="middle">TNF&#945; [pg/ml]</text>
<text transform="translate(81.2,621.1) scale(1.03,1)" font-size="10.2" font-family='"Liberation Sans", sans-serif' font-weight="normal" fill="#000" text-anchor="start" stroke="#000" stroke-width="0.05">Liver</text>
<text x="116.7" y="621.1" font-size="10.2" font-family='"Liberation Sans", sans-serif' font-weight="normal" fill="#000" text-anchor="middle" stroke="#000" stroke-width="0.2">+</text>
<text x="140.7" y="621.1" font-size="10.2" font-family='"Liberation Sans", sans-serif' font-weight="normal" fill="#000" text-anchor="middle" stroke="#000" stroke-width="0.2">+</text>
<text x="164.7" y="621.1" font-size="10.2" font-family='"Liberation Sans", sans-serif' font-weight="normal" fill="#000" text-anchor="middle" stroke="#000" stroke-width="0.2">+</text>
<text x="188.7" y="621.1" font-size="10.2" font-family='"Liberation Sans", sans-serif' font-weight="normal" fill="#000" text-anchor="middle" stroke="#000" stroke-width="0.2">+</text>
<text x="212.7" y="621.1" font-size="10.2" font-family='"Liberation Sans", sans-serif' font-weight="normal" fill="#000" text-anchor="middle" stroke="#000" stroke-width="0.2">+</text>
<text x="236.7" y="621.1" font-size="10.2" font-family='"Liberation Sans", sans-serif' font-weight="normal" fill="#000" text-anchor="middle" stroke="#000" stroke-width="0.2">+</text>
<text x="260.7" y="621.1" font-size="10.2" font-family='"Liberation Sans", sans-serif' font-weight="normal" fill="#000" text-anchor="middle" stroke="#000" stroke-width="0.2">+</text>
<text x="284.7" y="621.1" font-size="10.2" font-family='"Liberation Sans", sans-serif' font-weight="normal" fill="#000" text-anchor="middle" stroke="#000" stroke-width="0.2">+</text>
<text transform="translate(81.2,633.1) scale(1.03,1)" font-size="10.2" font-family='"Liberation Sans", sans-serif' font-weight="normal" fill="#000" text-anchor="start" stroke="#000" stroke-width="0.05">Lung</text>
<text x="116.7" y="633.5" font-size="10.2" font-family='"Liberation Sans", sans-serif' font-weight="normal" fill="#000" text-anchor="middle" stroke="#000" stroke-width="0.2">-</text>
<text x="140.7" y="633.1" font-size="10.2" font-family='"Liberation Sans", sans-serif' font-weight="normal" fill="#000" text-anchor="middle" stroke="#000" stroke-width="0.2">+</text>
<text x="164.7" y="633.1" font-size="10.2" font-family='"Liberation Sans", sans-serif' font-weight="normal" fill="#000" text-anchor="middle" stroke="#000" stroke-width="0.2">+</text>
<text x="188.7" y="633.1" font-size="10.2" font-family='"Liberation Sans", sans-serif' font-weight="normal" fill="#000" text-anchor="middle" stroke="#000" stroke-width="0.2">+</text>
<text x="212.7" y="633.5" font-size="10.2" font-family='"Liberation Sans", sans-serif' font-weight="normal" fill="#000" text-anchor="middle" stroke="#000" stroke-width="0.2">-</text>
<text x="236.7" y="633.1" font-size="10.2" font-family='"Liberation Sans", sans-serif' font-weight="normal" fill="#000" text-anchor="middle" stroke="#000" stroke-width="0.2">+</text>
<text x="260.7" y="633.1" font-size="10.2" font-family='"Liberation Sans", sans-serif' font-weight="normal" fill="#000" text-anchor="middle" stroke="#000" stroke-width="0.2">+</text>
<text x="284.7" y="633.1" font-size="10.2" font-family='"Liberation Sans", sans-serif' font-weight="normal" fill="#000" text-anchor="middle" stroke="#000" stroke-width="0.2">+</text>
<text transform="translate(81.2,645) scale(1.03,1)" font-size="10.2" font-family='"Liberation Sans", sans-serif' font-weight="normal" fill="#000" text-anchor="start" stroke="#000" stroke-width="0.05">NTHi</text>
<text x="116.7" y="645.4" font-size="10.2" font-family='"Liberation Sans", sans-serif' font-weight="normal" fill="#000" text-anchor="middle" stroke="#000" stroke-width="0.2">-</text>
<text x="140.7" y="645.4" font-size="10.2" font-family='"Liberation Sans", sans-serif' font-weight="normal" fill="#000" text-anchor="middle" stroke="#000" stroke-width="0.2">-</text>
<text x="164.7" y="645" font-size="10.2" font-family='"Liberation Sans", sans-serif' font-weight="normal" fill="#000" text-anchor="middle" stroke="#000" stroke-width="0.2">+</text>
<text x="188.7" y="645.4" font-size="10.2" font-family='"Liberation Sans", sans-serif' font-weight="normal" fill="#000" text-anchor="middle" stroke="#000" stroke-width="0.2">-</text>
<text x="212.7" y="645.4" font-size="10.2" font-family='"Liberation Sans", sans-serif' font-weight="normal" fill="#000" text-anchor="middle" stroke="#000" stroke-width="0.2">-</text>
<text x="236.7" y="645.4" font-size="10.2" font-family='"Liberation Sans", sans-serif' font-weight="normal" fill="#000" text-anchor="middle" stroke="#000" stroke-width="0.2">-</text>
<text x="260.7" y="645" font-size="10.2" font-family='"Liberation Sans", sans-serif' font-weight="normal" fill="#000" text-anchor="middle" stroke="#000" stroke-width="0.2">+</text>
<text x="284.7" y="645.4" font-size="10.2" font-family='"Liberation Sans", sans-serif' font-weight="normal" fill="#000" text-anchor="middle" stroke="#000" stroke-width="0.2">-</text>
<text transform="translate(81.2,656.9) scale(1.03,1)" font-size="10.2" font-family='"Liberation Sans", sans-serif' font-weight="normal" fill="#000" text-anchor="start" stroke="#000" stroke-width="0.05">PAO1</text>
<text x="116.7" y="657.3" font-size="10.2" font-family='"Liberation Sans", sans-serif' font-weight="normal" fill="#000" text-anchor="middle" stroke="#000" stroke-width="0.2">-</text>
<text x="140.7" y="657.3" font-size="10.2" font-family='"Liberation Sans", sans-serif' font-weight="normal" fill="#000" text-anchor="middle" stroke="#000" stroke-width="0.2">-</text>
<text x="164.7" y="657.3" font-size="10.2" font-family='"Liberation Sans", sans-serif' font-weight="normal" fill="#000" text-anchor="middle" stroke="#000" stroke-width="0.2">-</text>
<text x="188.7" y="656.9" font-size="10.2" font-family='"Liberation Sans", sans-serif' font-weight="normal" fill="#000" text-anchor="middle" stroke="#000" stroke-width="0.2">+</text>
<text x="212.7" y="657.3" font-size="10.2" font-family='"Liberation Sans", sans-serif' font-weight="normal" fill="#000" text-anchor="middle" stroke="#000" stroke-width="0.2">-</text>
<text x="236.7" y="657.3" font-size="10.2" font-family='"Liberation Sans", sans-serif' font-weight="normal" fill="#000" text-anchor="middle" stroke="#000" stroke-width="0.2">-</text>
<text x="260.7" y="657.3" font-size="10.2" font-family='"Liberation Sans", sans-serif' font-weight="normal" fill="#000" text-anchor="middle" stroke="#000" stroke-width="0.2">-</text>
<text x="284.7" y="656.9" font-size="10.2" font-family='"Liberation Sans", sans-serif' font-weight="normal" fill="#000" text-anchor="middle" stroke="#000" stroke-width="0.2">+</text>
<line x1="418.5" y1="586.82" x2="418.5" y2="579.5" stroke="#484848" stroke-width="1"/>
<line x1="415.1" y1="579.5" x2="422.7" y2="579.5" stroke="#484848" stroke-width="1.05"/>
<rect x="412.2" y="587.82" width="13.4" height="13.58" fill="#ffffff" stroke="#000" stroke-width="2"/>
<line x1="443.5" y1="585.32" x2="443.5" y2="579.5" stroke="#484848" stroke-width="1"/>
<line x1="439.62" y1="579.5" x2="447.22" y2="579.5" stroke="#484848" stroke-width="1.05"/>
<rect x="436.72" y="586.32" width="13.4" height="15.08" fill="#ffffff" stroke="#000" stroke-width="2"/>
<line x1="467.5" y1="564.43" x2="467.5" y2="536.5" stroke="#484848" stroke-width="1"/>
<line x1="464.14" y1="536.5" x2="471.74" y2="536.5" stroke="#484848" stroke-width="1.05"/>
<rect x="461.24" y="565.43" width="13.4" height="35.97" fill="#ffffff" stroke="#000" stroke-width="2"/>
<line x1="492.5" y1="554.62" x2="492.5" y2="520.5" stroke="#484848" stroke-width="1"/>
<line x1="488.66" y1="520.5" x2="496.26" y2="520.5" stroke="#484848" stroke-width="1.05"/>
<rect x="485.76" y="555.62" width="13.4" height="45.78" fill="#ffffff" stroke="#000" stroke-width="2"/>
<line x1="516.5" y1="563.41" x2="516.5" y2="552.5" stroke="#484848" stroke-width="1"/>
<line x1="513.18" y1="552.5" x2="520.78" y2="552.5" stroke="#484848" stroke-width="1.05"/>
<rect x="510.28" y="564.41" width="13.4" height="36.99" fill="#b4b4b4" stroke="#000" stroke-width="2"/>
<line x1="541.5" y1="557.14" x2="541.5" y2="539.5" stroke="#484848" stroke-width="1"/>
<line x1="537.7" y1="539.5" x2="545.3" y2="539.5" stroke="#484848" stroke-width="1.05"/>
<rect x="534.8" y="558.14" width="13.4" height="43.26" fill="#b4b4b4" stroke="#000" stroke-width="2"/>
<line x1="566.5" y1="520.66" x2="566.5" y2="490.5" stroke="#484848" stroke-width="1"/>
<line x1="562.22" y1="490.5" x2="569.82" y2="490.5" stroke="#484848" stroke-width="1.05"/>
<rect x="559.32" y="521.66" width="13.4" height="79.74" fill="#b4b4b4" stroke="#000" stroke-width="2"/>
<line x1="590.5" y1="496.05" x2="590.5" y2="489.5" stroke="#484848" stroke-width="1"/>
<line x1="586.74" y1="489.5" x2="594.34" y2="489.5" stroke="#484848" stroke-width="1.05"/>
<rect x="583.84" y="497.05" width="13.4" height="104.35" fill="#b4b4b4" stroke="#000" stroke-width="2"/>
<line x1="402.8" y1="468.9" x2="402.8" y2="602.4" stroke="#000" stroke-width="2"/>
<line x1="396.8" y1="601.4" x2="601" y2="601.4" stroke="#000" stroke-width="2"/>
<line x1="396.8" y1="601.4" x2="402.8" y2="601.4" stroke="#000" stroke-width="2"/>
<text transform="translate(395.3,604.6) scale(1.12,1)" font-size="8.7" font-family='"Liberation Sans", sans-serif' font-weight="bold" fill="#111" text-anchor="end">0</text>
<line x1="396.8" y1="557.23" x2="402.8" y2="557.23" stroke="#000" stroke-width="2"/>
<text transform="translate(395.3,560.43) scale(1.12,1)" font-size="8.7" font-family='"Liberation Sans", sans-serif' font-weight="bold" fill="#111" text-anchor="end">1000</text>
<line x1="396.8" y1="513.06" x2="402.8" y2="513.06" stroke="#000" stroke-width="2"/>
<text transform="translate(395.3,516.26) scale(1.12,1)" font-size="8.7" font-family='"Liberation Sans", sans-serif' font-weight="bold" fill="#111" text-anchor="end">2000</text>
<line x1="396.8" y1="468.89" x2="402.8" y2="468.89" stroke="#000" stroke-width="2"/>
<text transform="translate(395.3,472.09) scale(1.12,1)" font-size="8.7" font-family='"Liberation Sans", sans-serif' font-weight="bold" fill="#111" text-anchor="end">3000</text>
<line x1="418.9" y1="601.4" x2="418.9" y2="607" stroke="#000" stroke-width="2"/>
<line x1="443.42" y1="601.4" x2="443.42" y2="607" stroke="#000" stroke-width="2"/>
<line x1="467.94" y1="601.4" x2="467.94" y2="607" stroke="#000" stroke-width="2"/>
<line x1="492.46" y1="601.4" x2="492.46" y2="607" stroke="#000" stroke-width="2"/>
<line x1="516.98" y1="601.4" x2="516.98" y2="607" stroke="#000" stroke-width="2"/>
<line x1="541.5" y1="601.4" x2="541.5" y2="607" stroke="#000" stroke-width="2"/>
<line x1="566.02" y1="601.4" x2="566.02" y2="607" stroke="#000" stroke-width="2"/>
<line x1="590.54" y1="601.4" x2="590.54" y2="607" stroke="#000" stroke-width="2"/>
<polyline points="492.8,444.8 492.8,436.2 590.8,436.2 590.8,444.8" fill="none" stroke="#333" stroke-width="1.3"/>
<path d="M541.7 424.45L541.7 430.55M544.34 425.98L539.06 429.02M544.34 429.02L539.06 425.98" stroke="#111" stroke-width="1.45" fill="none"/>
<circle cx="541.7" cy="427.5" r="1.3" fill="#111"/>
<polyline points="517.1,463.8 517.1,455.2 590.8,455.2 590.8,463.8" fill="none" stroke="#333" stroke-width="1.3"/>
<path d="M554.1 443.05L554.1 449.15M556.74 444.58L551.46 447.62M556.74 447.62L551.46 444.58" stroke="#111" stroke-width="1.45" fill="none"/>
<circle cx="554.1" cy="446.1" r="1.3" fill="#111"/>
<polyline points="541.7,481.8 541.7,474.2 590.8,474.2 590.8,481.8" fill="none" stroke="#333" stroke-width="1.3"/>
<path d="M566.2 461.95L566.2 468.05M568.84 463.48L563.56 466.52M568.84 466.52L563.56 463.48" stroke="#111" stroke-width="1.45" fill="none"/>
<circle cx="566.2" cy="465" r="1.3" fill="#111"/>
<text transform="translate(366.9,535.5) rotate(-90)" font-size="10.9" font-family='"Liberation Sans", sans-serif' font-weight="bold" fill="#111" text-anchor="middle">IL-8 [pg/ml]</text>
<text transform="translate(383.4,619.6) scale(1.03,1)" font-size="10.2" font-family='"Liberation Sans", sans-serif' font-weight="normal" fill="#000" text-anchor="start" stroke="#000" stroke-width="0.05">Liver</text>
<text x="418.9" y="619.6" font-size="10.2" font-family='"Liberation Sans", sans-serif' font-weight="normal" fill="#000" text-anchor="middle" stroke="#000" stroke-width="0.2">+</text>
<text x="443.42" y="619.6" font-size="10.2" font-family='"Liberation Sans", sans-serif' font-weight="normal" fill="#000" text-anchor="middle" stroke="#000" stroke-width="0.2">+</text>
<text x="467.94" y="619.6" font-size="10.2" font-family='"Liberation Sans", sans-serif' font-weight="normal" fill="#000" text-anchor="middle" stroke="#000" stroke-width="0.2">+</text>
<text x="492.46" y="619.6" font-size="10.2" font-family='"Liberation Sans", sans-serif' font-weight="normal" fill="#000" text-anchor="middle" stroke="#000" stroke-width="0.2">+</text>
<text x="516.98" y="619.6" font-size="10.2" font-family='"Liberation Sans", sans-serif' font-weight="normal" fill="#000" text-anchor="middle" stroke="#000" stroke-width="0.2">+</text>
<text x="541.5" y="619.6" font-size="10.2" font-family='"Liberation Sans", sans-serif' font-weight="normal" fill="#000" text-anchor="middle" stroke="#000" stroke-width="0.2">+</text>
<text x="566.02" y="619.6" font-size="10.2" font-family='"Liberation Sans", sans-serif' font-weight="normal" fill="#000" text-anchor="middle" stroke="#000" stroke-width="0.2">+</text>
<text x="590.54" y="619.6" font-size="10.2" font-family='"Liberation Sans", sans-serif' font-weight="normal" fill="#000" text-anchor="middle" stroke="#000" stroke-width="0.2">+</text>
<text transform="translate(383.4,632) scale(1.03,1)" font-size="10.2" font-family='"Liberation Sans", sans-serif' font-weight="normal" fill="#000" text-anchor="start" stroke="#000" stroke-width="0.05">Lung</text>
<text x="418.9" y="632.4" font-size="10.2" font-family='"Liberation Sans", sans-serif' font-weight="normal" fill="#000" text-anchor="middle" stroke="#000" stroke-width="0.2">-</text>
<text x="443.42" y="632" font-size="10.2" font-family='"Liberation Sans", sans-serif' font-weight="normal" fill="#000" text-anchor="middle" stroke="#000" stroke-width="0.2">+</text>
<text x="467.94" y="632" font-size="10.2" font-family='"Liberation Sans", sans-serif' font-weight="normal" fill="#000" text-anchor="middle" stroke="#000" stroke-width="0.2">+</text>
<text x="492.46" y="632" font-size="10.2" font-family='"Liberation Sans", sans-serif' font-weight="normal" fill="#000" text-anchor="middle" stroke="#000" stroke-width="0.2">+</text>
<text x="516.98" y="632.4" font-size="10.2" font-family='"Liberation Sans", sans-serif' font-weight="normal" fill="#000" text-anchor="middle" stroke="#000" stroke-width="0.2">-</text>
<text x="541.5" y="632" font-size="10.2" font-family='"Liberation Sans", sans-serif' font-weight="normal" fill="#000" text-anchor="middle" stroke="#000" stroke-width="0.2">+</text>
<text x="566.02" y="632" font-size="10.2" font-family='"Liberation Sans", sans-serif' font-weight="normal" fill="#000" text-anchor="middle" stroke="#000" stroke-width="0.2">+</text>
<text x="590.54" y="632" font-size="10.2" font-family='"Liberation Sans", sans-serif' font-weight="normal" fill="#000" text-anchor="middle" stroke="#000" stroke-width="0.2">+</text>
<text transform="translate(383.4,644.3) scale(1.03,1)" font-size="10.2" font-family='"Liberation Sans", sans-serif' font-weight="normal" fill="#000" text-anchor="start" stroke="#000" stroke-width="0.05">NTHi</text>
<text x="418.9" y="644.7" font-size="10.2" font-family='"Liberation Sans", sans-serif' font-weight="normal" fill="#000" text-anchor="middle" stroke="#000" stroke-width="0.2">-</text>
<text x="443.42" y="644.7" font-size="10.2" font-family='"Liberation Sans", sans-serif' font-weight="normal" fill="#000" text-anchor="middle" stroke="#000" stroke-width="0.2">-</text>
<text x="467.94" y="644.3" font-size="10.2" font-family='"Liberation Sans", sans-serif' font-weight="normal" fill="#000" text-anchor="middle" stroke="#000" stroke-width="0.2">+</text>
<text x="492.46" y="644.7" font-size="10.2" font-family='"Liberation Sans", sans-serif' font-weight="normal" fill="#000" text-anchor="middle" stroke="#000" stroke-width="0.2">-</text>
<text x="516.98" y="644.7" font-size="10.2" font-family='"Liberation Sans", sans-serif' font-weight="normal" fill="#000" text-anchor="middle" stroke="#000" stroke-width="0.2">-</text>
<text x="541.5" y="644.7" font-size="10.2" font-family='"Liberation Sans", sans-serif' font-weight="normal" fill="#000" text-anchor="middle" stroke="#000" stroke-width="0.2">-</text>
<text x="566.02" y="644.3" font-size="10.2" font-family='"Liberation Sans", sans-serif' font-weight="normal" fill="#000" text-anchor="middle" stroke="#000" stroke-width="0.2">+</text>
<text x="590.54" y="644.7" font-size="10.2" font-family='"Liberation Sans", sans-serif' font-weight="normal" fill="#000" text-anchor="middle" stroke="#000" stroke-width="0.2">-</text>
<text transform="translate(383.4,656.7) scale(1.03,1)" font-size="10.2" font-family='"Liberation Sans", sans-serif' font-weight="normal" fill="#000" text-anchor="start" stroke="#000" stroke-width="0.05">PAO1</text>
<text x="418.9" y="657.1" font-size="10.2" font-family='"Liberation Sans", sans-serif' font-weight="normal" fill="#000" text-anchor="middle" stroke="#000" stroke-width="0.2">-</text>
<text x="443.42" y="657.1" font-size="10.2" font-family='"Liberation Sans", sans-serif' font-weight="normal" fill="#000" text-anchor="middle" stroke="#000" stroke-width="0.2">-</text>
<text x="467.94" y="657.1" font-size="10.2" font-family='"Liberation Sans", sans-serif' font-weight="normal" fill="#000" text-anchor="middle" stroke="#000" stroke-width="0.2">-</text>
<text x="492.46" y="656.7" font-size="10.2" font-family='"Liberation Sans", sans-serif' font-weight="normal" fill="#000" text-anchor="middle" stroke="#000" stroke-width="0.2">+</text>
<text x="516.98" y="657.1" font-size="10.2" font-family='"Liberation Sans", sans-serif' font-weight="normal" fill="#000" text-anchor="middle" stroke="#000" stroke-width="0.2">-</text>
<text x="541.5" y="657.1" font-size="10.2" font-family='"Liberation Sans", sans-serif' font-weight="normal" fill="#000" text-anchor="middle" stroke="#000" stroke-width="0.2">-</text>
<text x="566.02" y="657.1" font-size="10.2" font-family='"Liberation Sans", sans-serif' font-weight="normal" fill="#000" text-anchor="middle" stroke="#000" stroke-width="0.2">-</text>
<text x="590.54" y="656.7" font-size="10.2" font-family='"Liberation Sans", sans-serif' font-weight="normal" fill="#000" text-anchor="middle" stroke="#000" stroke-width="0.2">+</text>
<rect x="639.2" y="475.6" width="11.7" height="4.8" fill="#fff" stroke="#000" stroke-width="2"/>
<rect x="639.2" y="493.3" width="11.7" height="4.8" fill="#b4b4b4" stroke="#000" stroke-width="2"/>
<text x="660" y="481.9" font-size="11.3" font-family='"Liberation Sans", sans-serif' font-weight="normal" fill="#222" text-anchor="start">24 h</text>
<text x="660" y="499.6" font-size="11.3" font-family='"Liberation Sans", sans-serif' font-weight="normal" fill="#222" text-anchor="start">48 h</text>
<line x1="116.5" y1="800.16" x2="116.5" y2="798.5" stroke="#484848" stroke-width="1"/>
<line x1="113" y1="798.5" x2="120.6" y2="798.5" stroke="#484848" stroke-width="1.05"/>
<rect x="110.1" y="801.16" width="13.4" height="39.63" fill="#ffffff" stroke="#000" stroke-width="2"/>
<line x1="140.5" y1="799.95" x2="140.5" y2="797.5" stroke="#484848" stroke-width="1"/>
<line x1="136.9" y1="797.5" x2="144.5" y2="797.5" stroke="#484848" stroke-width="1.05"/>
<rect x="134" y="800.95" width="13.4" height="39.85" fill="#ffffff" stroke="#000" stroke-width="2"/>
<line x1="164.5" y1="785.97" x2="164.5" y2="781.5" stroke="#484848" stroke-width="1"/>
<line x1="160.8" y1="781.5" x2="168.4" y2="781.5" stroke="#484848" stroke-width="1.05"/>
<rect x="157.9" y="786.97" width="13.4" height="53.83" fill="#ffffff" stroke="#000" stroke-width="2"/>
<line x1="188.5" y1="785.33" x2="188.5" y2="774.5" stroke="#484848" stroke-width="1"/>
<line x1="184.7" y1="774.5" x2="192.3" y2="774.5" stroke="#484848" stroke-width="1.05"/>
<rect x="181.8" y="786.33" width="13.4" height="54.47" fill="#ffffff" stroke="#000" stroke-width="2"/>
<line x1="212.5" y1="779.31" x2="212.5" y2="778.5" stroke="#484848" stroke-width="1"/>
<line x1="208.6" y1="778.5" x2="216.2" y2="778.5" stroke="#484848" stroke-width="1.05"/>
<rect x="205.7" y="780.31" width="13.4" height="60.49" fill="#b4b4b4" stroke="#000" stroke-width="2"/>
<line x1="236.5" y1="752.65" x2="236.5" y2="720.5" stroke="#484848" stroke-width="1"/>
<line x1="232.5" y1="720.5" x2="240.1" y2="720.5" stroke="#484848" stroke-width="1.05"/>
<rect x="229.6" y="753.65" width="13.4" height="87.15" fill="#b4b4b4" stroke="#000" stroke-width="2"/>
<line x1="260.5" y1="759.31" x2="260.5" y2="756.5" stroke="#484848" stroke-width="1"/>
<line x1="256.4" y1="756.5" x2="264" y2="756.5" stroke="#484848" stroke-width="1.05"/>
<rect x="253.5" y="760.31" width="13.4" height="80.49" fill="#b4b4b4" stroke="#000" stroke-width="2"/>
<line x1="284.5" y1="753.08" x2="284.5" y2="748.5" stroke="#484848" stroke-width="1"/>
<line x1="280.3" y1="748.5" x2="287.9" y2="748.5" stroke="#484848" stroke-width="1.05"/>
<rect x="277.4" y="754.08" width="13.4" height="86.72" fill="#b4b4b4" stroke="#000" stroke-width="2"/>
<line x1="101" y1="711.8" x2="101" y2="841.8" stroke="#000" stroke-width="2"/>
<line x1="95" y1="840.8" x2="301.5" y2="840.8" stroke="#000" stroke-width="2"/>
<line x1="95" y1="840.8" x2="101" y2="840.8" stroke="#000" stroke-width="2"/>
<text transform="translate(93.5,844) scale(1.12,1)" font-size="8.7" font-family='"Liberation Sans", sans-serif' font-weight="bold" fill="#111" text-anchor="end">0</text>
<line x1="95" y1="797.8" x2="101" y2="797.8" stroke="#000" stroke-width="2"/>
<text transform="translate(93.5,801) scale(1.12,1)" font-size="8.7" font-family='"Liberation Sans", sans-serif' font-weight="bold" fill="#111" text-anchor="end">200</text>
<line x1="95" y1="754.8" x2="101" y2="754.8" stroke="#000" stroke-width="2"/>
<text transform="translate(93.5,758) scale(1.12,1)" font-size="8.7" font-family='"Liberation Sans", sans-serif' font-weight="bold" fill="#111" text-anchor="end">400</text>
<line x1="95" y1="711.8" x2="101" y2="711.8" stroke="#000" stroke-width="2"/>
<text transform="translate(93.5,715) scale(1.12,1)" font-size="8.7" font-family='"Liberation Sans", sans-serif' font-weight="bold" fill="#111" text-anchor="end">600</text>
<line x1="116.8" y1="840.8" x2="116.8" y2="846.4" stroke="#000" stroke-width="2"/>
<line x1="140.7" y1="840.8" x2="140.7" y2="846.4" stroke="#000" stroke-width="2"/>
<line x1="164.6" y1="840.8" x2="164.6" y2="846.4" stroke="#000" stroke-width="2"/>
<line x1="188.5" y1="840.8" x2="188.5" y2="846.4" stroke="#000" stroke-width="2"/>
<line x1="212.4" y1="840.8" x2="212.4" y2="846.4" stroke="#000" stroke-width="2"/>
<line x1="236.3" y1="840.8" x2="236.3" y2="846.4" stroke="#000" stroke-width="2"/>
<line x1="260.2" y1="840.8" x2="260.2" y2="846.4" stroke="#000" stroke-width="2"/>
<line x1="284.1" y1="840.8" x2="284.1" y2="846.4" stroke="#000" stroke-width="2"/>
<polyline points="140.8,712.2 140.8,704.8 236.6,704.8 236.6,712.2" fill="none" stroke="#333" stroke-width="1.3"/>
<path d="M185 693.25L185 699.35M187.64 694.77L182.36 697.82M187.64 697.82L182.36 694.77" stroke="#111" stroke-width="1.45" fill="none"/>
<circle cx="185" cy="696.3" r="1.3" fill="#111"/>
<path d="M192.6 693.25L192.6 699.35M195.24 694.77L189.96 697.82M195.24 697.82L189.96 694.77" stroke="#111" stroke-width="1.45" fill="none"/>
<circle cx="192.6" cy="696.3" r="1.3" fill="#111"/>
<text transform="translate(71.8,776.7) rotate(-90)" font-size="10.6" font-family='"Liberation Sans", sans-serif' font-weight="bold" fill="#111" text-anchor="middle">MIP-1 [pg/ml]</text>
<text transform="translate(81.3,861.6) scale(1.03,1)" font-size="10.2" font-family='"Liberation Sans", sans-serif' font-weight="normal" fill="#000" text-anchor="start" stroke="#000" stroke-width="0.05">Liver</text>
<text x="116.8" y="861.6" font-size="10.2" font-family='"Liberation Sans", sans-serif' font-weight="normal" fill="#000" text-anchor="middle" stroke="#000" stroke-width="0.2">+</text>
<text x="140.7" y="861.6" font-size="10.2" font-family='"Liberation Sans", sans-serif' font-weight="normal" fill="#000" text-anchor="middle" stroke="#000" stroke-width="0.2">+</text>
<text x="164.6" y="861.6" font-size="10.2" font-family='"Liberation Sans", sans-serif' font-weight="normal" fill="#000" text-anchor="middle" stroke="#000" stroke-width="0.2">+</text>
<text x="188.5" y="861.6" font-size="10.2" font-family='"Liberation Sans", sans-serif' font-weight="normal" fill="#000" text-anchor="middle" stroke="#000" stroke-width="0.2">+</text>
<text x="212.4" y="861.6" font-size="10.2" font-family='"Liberation Sans", sans-serif' font-weight="normal" fill="#000" text-anchor="middle" stroke="#000" stroke-width="0.2">+</text>
<text x="236.3" y="861.6" font-size="10.2" font-family='"Liberation Sans", sans-serif' font-weight="normal" fill="#000" text-anchor="middle" stroke="#000" stroke-width="0.2">+</text>
<text x="260.2" y="861.6" font-size="10.2" font-family='"Liberation Sans", sans-serif' font-weight="normal" fill="#000" text-anchor="middle" stroke="#000" stroke-width="0.2">+</text>
<text x="284.1" y="861.6" font-size="10.2" font-family='"Liberation Sans", sans-serif' font-weight="normal" fill="#000" text-anchor="middle" stroke="#000" stroke-width="0.2">+</text>
<text transform="translate(81.3,873.5) scale(1.03,1)" font-size="10.2" font-family='"Liberation Sans", sans-serif' font-weight="normal" fill="#000" text-anchor="start" stroke="#000" stroke-width="0.05">Lung</text>
<text x="116.8" y="873.9" font-size="10.2" font-family='"Liberation Sans", sans-serif' font-weight="normal" fill="#000" text-anchor="middle" stroke="#000" stroke-width="0.2">-</text>
<text x="140.7" y="873.5" font-size="10.2" font-family='"Liberation Sans", sans-serif' font-weight="normal" fill="#000" text-anchor="middle" stroke="#000" stroke-width="0.2">+</text>
<text x="164.6" y="873.5" font-size="10.2" font-family='"Liberation Sans", sans-serif' font-weight="normal" fill="#000" text-anchor="middle" stroke="#000" stroke-width="0.2">+</text>
<text x="188.5" y="873.5" font-size="10.2" font-family='"Liberation Sans", sans-serif' font-weight="normal" fill="#000" text-anchor="middle" stroke="#000" stroke-width="0.2">+</text>
<text x="212.4" y="873.9" font-size="10.2" font-family='"Liberation Sans", sans-serif' font-weight="normal" fill="#000" text-anchor="middle" stroke="#000" stroke-width="0.2">-</text>
<text x="236.3" y="873.5" font-size="10.2" font-family='"Liberation Sans", sans-serif' font-weight="normal" fill="#000" text-anchor="middle" stroke="#000" stroke-width="0.2">+</text>
<text x="260.2" y="873.5" font-size="10.2" font-family='"Liberation Sans", sans-serif' font-weight="normal" fill="#000" text-anchor="middle" stroke="#000" stroke-width="0.2">+</text>
<text x="284.1" y="873.5" font-size="10.2" font-family='"Liberation Sans", sans-serif' font-weight="normal" fill="#000" text-anchor="middle" stroke="#000" stroke-width="0.2">+</text>
<text transform="translate(81.3,885.4) scale(1.03,1)" font-size="10.2" font-family='"Liberation Sans", sans-serif' font-weight="normal" fill="#000" text-anchor="start" stroke="#000" stroke-width="0.05">NTHi</text>
<text x="116.8" y="885.8" font-size="10.2" font-family='"Liberation Sans", sans-serif' font-weight="normal" fill="#000" text-anchor="middle" stroke="#000" stroke-width="0.2">-</text>
<text x="140.7" y="885.8" font-size="10.2" font-family='"Liberation Sans", sans-serif' font-weight="normal" fill="#000" text-anchor="middle" stroke="#000" stroke-width="0.2">-</text>
<text x="164.6" y="885.4" font-size="10.2" font-family='"Liberation Sans", sans-serif' font-weight="normal" fill="#000" text-anchor="middle" stroke="#000" stroke-width="0.2">+</text>
<text x="188.5" y="885.8" font-size="10.2" font-family='"Liberation Sans", sans-serif' font-weight="normal" fill="#000" text-anchor="middle" stroke="#000" stroke-width="0.2">-</text>
<text x="212.4" y="885.8" font-size="10.2" font-family='"Liberation Sans", sans-serif' font-weight="normal" fill="#000" text-anchor="middle" stroke="#000" stroke-width="0.2">-</text>
<text x="236.3" y="885.8" font-size="10.2" font-family='"Liberation Sans", sans-serif' font-weight="normal" fill="#000" text-anchor="middle" stroke="#000" stroke-width="0.2">-</text>
<text x="260.2" y="885.4" font-size="10.2" font-family='"Liberation Sans", sans-serif' font-weight="normal" fill="#000" text-anchor="middle" stroke="#000" stroke-width="0.2">+</text>
<text x="284.1" y="885.8" font-size="10.2" font-family='"Liberation Sans", sans-serif' font-weight="normal" fill="#000" text-anchor="middle" stroke="#000" stroke-width="0.2">-</text>
<text transform="translate(81.3,897.3) scale(1.03,1)" font-size="10.2" font-family='"Liberation Sans", sans-serif' font-weight="normal" fill="#000" text-anchor="start" stroke="#000" stroke-width="0.05">PAO1</text>
<text x="116.8" y="897.7" font-size="10.2" font-family='"Liberation Sans", sans-serif' font-weight="normal" fill="#000" text-anchor="middle" stroke="#000" stroke-width="0.2">-</text>
<text x="140.7" y="897.7" font-size="10.2" font-family='"Liberation Sans", sans-serif' font-weight="normal" fill="#000" text-anchor="middle" stroke="#000" stroke-width="0.2">-</text>
<text x="164.6" y="897.7" font-size="10.2" font-family='"Liberation Sans", sans-serif' font-weight="normal" fill="#000" text-anchor="middle" stroke="#000" stroke-width="0.2">-</text>
<text x="188.5" y="897.3" font-size="10.2" font-family='"Liberation Sans", sans-serif' font-weight="normal" fill="#000" text-anchor="middle" stroke="#000" stroke-width="0.2">+</text>
<text x="212.4" y="897.7" font-size="10.2" font-family='"Liberation Sans", sans-serif' font-weight="normal" fill="#000" text-anchor="middle" stroke="#000" stroke-width="0.2">-</text>
<text x="236.3" y="897.7" font-size="10.2" font-family='"Liberation Sans", sans-serif' font-weight="normal" fill="#000" text-anchor="middle" stroke="#000" stroke-width="0.2">-</text>
<text x="260.2" y="897.7" font-size="10.2" font-family='"Liberation Sans", sans-serif' font-weight="normal" fill="#000" text-anchor="middle" stroke="#000" stroke-width="0.2">-</text>
<text x="284.1" y="897.3" font-size="10.2" font-family='"Liberation Sans", sans-serif' font-weight="normal" fill="#000" text-anchor="middle" stroke="#000" stroke-width="0.2">+</text>
<rect x="407.4" y="818.42" width="13.4" height="19.28" fill="#ffffff" stroke="#000" stroke-width="2"/>
<rect x="432.35" y="818.42" width="13.4" height="19.28" fill="#ffffff" stroke="#000" stroke-width="2"/>
<line x1="464.4" y1="802.38" x2="464.4" y2="776.35" stroke="#9a9a9a" stroke-width="1.6"/>
<line x1="460.4" y1="776.35" x2="468.2" y2="776.35" stroke="#9a9a9a" stroke-width="1.3"/>
<rect x="457.3" y="803.38" width="13.4" height="34.32" fill="#ffffff" stroke="#000" stroke-width="2"/>
<line x1="489.35" y1="781.76" x2="489.35" y2="719.74" stroke="#9a9a9a" stroke-width="1.6"/>
<line x1="485.35" y1="719.74" x2="493.15" y2="719.74" stroke="#9a9a9a" stroke-width="1.3"/>
<rect x="482.25" y="782.76" width="13.4" height="54.94" fill="#ffffff" stroke="#000" stroke-width="2"/>
<rect x="507.2" y="818.25" width="13.4" height="19.45" fill="#b4b4b4" stroke="#000" stroke-width="2"/>
<line x1="539.25" y1="815.22" x2="539.25" y2="811.34" stroke="#9a9a9a" stroke-width="1.6"/>
<line x1="535.25" y1="811.34" x2="543.05" y2="811.34" stroke="#9a9a9a" stroke-width="1.3"/>
<rect x="532.15" y="816.22" width="13.4" height="21.48" fill="#b4b4b4" stroke="#000" stroke-width="2"/>
<line x1="564.2" y1="810.66" x2="564.2" y2="802.38" stroke="#9a9a9a" stroke-width="1.6"/>
<line x1="560.2" y1="802.38" x2="568" y2="802.38" stroke="#9a9a9a" stroke-width="1.3"/>
<rect x="557.1" y="811.66" width="13.4" height="26.04" fill="#b4b4b4" stroke="#000" stroke-width="2"/>
<line x1="589.15" y1="804.75" x2="589.15" y2="798.66" stroke="#9a9a9a" stroke-width="1.6"/>
<line x1="585.15" y1="798.66" x2="592.95" y2="798.66" stroke="#9a9a9a" stroke-width="1.3"/>
<rect x="582.05" y="805.75" width="13.4" height="31.96" fill="#b4b4b4" stroke="#000" stroke-width="2"/>
<line x1="398.2" y1="702.7" x2="398.2" y2="838.7" stroke="#000" stroke-width="2"/>
<line x1="392.2" y1="837.7" x2="606.8" y2="837.7" stroke="#000" stroke-width="2"/>
<line x1="392.2" y1="837.7" x2="398.2" y2="837.7" stroke="#000" stroke-width="2"/>
<text transform="translate(390.7,840.9) scale(1.12,1)" font-size="8.7" font-family='"Liberation Sans", sans-serif' font-weight="bold" fill="#111" text-anchor="end">0</text>
<line x1="392.2" y1="803.9" x2="398.2" y2="803.9" stroke="#000" stroke-width="2"/>
<text transform="translate(390.7,807.1) scale(1.12,1)" font-size="8.7" font-family='"Liberation Sans", sans-serif' font-weight="bold" fill="#111" text-anchor="end">20</text>
<line x1="392.2" y1="770.1" x2="398.2" y2="770.1" stroke="#000" stroke-width="2"/>
<text transform="translate(390.7,773.3) scale(1.12,1)" font-size="8.7" font-family='"Liberation Sans", sans-serif' font-weight="bold" fill="#111" text-anchor="end">40</text>
<line x1="392.2" y1="736.3" x2="398.2" y2="736.3" stroke="#000" stroke-width="2"/>
<text transform="translate(390.7,739.5) scale(1.12,1)" font-size="8.7" font-family='"Liberation Sans", sans-serif' font-weight="bold" fill="#111" text-anchor="end">60</text>
<line x1="392.2" y1="702.5" x2="398.2" y2="702.5" stroke="#000" stroke-width="2"/>
<text transform="translate(390.7,705.7) scale(1.12,1)" font-size="8.7" font-family='"Liberation Sans", sans-serif' font-weight="bold" fill="#111" text-anchor="end">80</text>
<line x1="414.1" y1="837.7" x2="414.1" y2="843.3" stroke="#000" stroke-width="2"/>
<line x1="439.05" y1="837.7" x2="439.05" y2="843.3" stroke="#000" stroke-width="2"/>
<line x1="464" y1="837.7" x2="464" y2="843.3" stroke="#000" stroke-width="2"/>
<line x1="488.95" y1="837.7" x2="488.95" y2="843.3" stroke="#000" stroke-width="2"/>
<line x1="513.9" y1="837.7" x2="513.9" y2="843.3" stroke="#000" stroke-width="2"/>
<line x1="538.85" y1="837.7" x2="538.85" y2="843.3" stroke="#000" stroke-width="2"/>
<line x1="563.8" y1="837.7" x2="563.8" y2="843.3" stroke="#000" stroke-width="2"/>
<line x1="588.75" y1="837.7" x2="588.75" y2="843.3" stroke="#000" stroke-width="2"/>
<polyline points="513.8,716.4 513.8,703.9 588.7,703.9 588.7,716.4" fill="none" stroke="#333" stroke-width="1.3"/>
<path d="M551.2 691.75L551.2 697.85M553.84 693.27L548.56 696.32M553.84 696.32L548.56 693.27" stroke="#111" stroke-width="1.45" fill="none"/>
<circle cx="551.2" cy="694.8" r="1.3" fill="#111"/>
<text transform="translate(372.6,769.7) rotate(-90)" font-size="11.2" font-family='"Liberation Sans", sans-serif' font-weight="bold" fill="#111" text-anchor="middle">MCP-1 [pg/mL]</text>
<text transform="translate(377.5,857.3) scale(1.03,1)" font-size="10.2" font-family='"Liberation Sans", sans-serif' font-weight="normal" fill="#000" text-anchor="start" stroke="#000" stroke-width="0.05">Liver</text>
<text x="414.1" y="857.3" font-size="10.2" font-family='"Liberation Sans", sans-serif' font-weight="normal" fill="#000" text-anchor="middle" stroke="#000" stroke-width="0.2">+</text>
<text x="439.05" y="857.3" font-size="10.2" font-family='"Liberation Sans", sans-serif' font-weight="normal" fill="#000" text-anchor="middle" stroke="#000" stroke-width="0.2">+</text>
<text x="464" y="857.3" font-size="10.2" font-family='"Liberation Sans", sans-serif' font-weight="normal" fill="#000" text-anchor="middle" stroke="#000" stroke-width="0.2">+</text>
<text x="488.95" y="857.3" font-size="10.2" font-family='"Liberation Sans", sans-serif' font-weight="normal" fill="#000" text-anchor="middle" stroke="#000" stroke-width="0.2">+</text>
<text x="513.9" y="857.3" font-size="10.2" font-family='"Liberation Sans", sans-serif' font-weight="normal" fill="#000" text-anchor="middle" stroke="#000" stroke-width="0.2">+</text>
<text x="538.85" y="857.3" font-size="10.2" font-family='"Liberation Sans", sans-serif' font-weight="normal" fill="#000" text-anchor="middle" stroke="#000" stroke-width="0.2">+</text>
<text x="563.8" y="857.3" font-size="10.2" font-family='"Liberation Sans", sans-serif' font-weight="normal" fill="#000" text-anchor="middle" stroke="#000" stroke-width="0.2">+</text>
<text x="588.75" y="857.3" font-size="10.2" font-family='"Liberation Sans", sans-serif' font-weight="normal" fill="#000" text-anchor="middle" stroke="#000" stroke-width="0.2">+</text>
<text transform="translate(377.5,869.7) scale(1.03,1)" font-size="10.2" font-family='"Liberation Sans", sans-serif' font-weight="normal" fill="#000" text-anchor="start" stroke="#000" stroke-width="0.05">Lung</text>
<text x="414.1" y="870.1" font-size="10.2" font-family='"Liberation Sans", sans-serif' font-weight="normal" fill="#000" text-anchor="middle" stroke="#000" stroke-width="0.2">-</text>
<text x="439.05" y="869.7" font-size="10.2" font-family='"Liberation Sans", sans-serif' font-weight="normal" fill="#000" text-anchor="middle" stroke="#000" stroke-width="0.2">+</text>
<text x="464" y="869.7" font-size="10.2" font-family='"Liberation Sans", sans-serif' font-weight="normal" fill="#000" text-anchor="middle" stroke="#000" stroke-width="0.2">+</text>
<text x="488.95" y="869.7" font-size="10.2" font-family='"Liberation Sans", sans-serif' font-weight="normal" fill="#000" text-anchor="middle" stroke="#000" stroke-width="0.2">+</text>
<text x="513.9" y="870.1" font-size="10.2" font-family='"Liberation Sans", sans-serif' font-weight="normal" fill="#000" text-anchor="middle" stroke="#000" stroke-width="0.2">-</text>
<text x="538.85" y="869.7" font-size="10.2" font-family='"Liberation Sans", sans-serif' font-weight="normal" fill="#000" text-anchor="middle" stroke="#000" stroke-width="0.2">+</text>
<text x="563.8" y="869.7" font-size="10.2" font-family='"Liberation Sans", sans-serif' font-weight="normal" fill="#000" text-anchor="middle" stroke="#000" stroke-width="0.2">+</text>
<text x="588.75" y="869.7" font-size="10.2" font-family='"Liberation Sans", sans-serif' font-weight="normal" fill="#000" text-anchor="middle" stroke="#000" stroke-width="0.2">+</text>
<text transform="translate(377.5,882.1) scale(1.03,1)" font-size="10.2" font-family='"Liberation Sans", sans-serif' font-weight="normal" fill="#000" text-anchor="start" stroke="#000" stroke-width="0.05">NTHi</text>
<text x="414.1" y="882.5" font-size="10.2" font-family='"Liberation Sans", sans-serif' font-weight="normal" fill="#000" text-anchor="middle" stroke="#000" stroke-width="0.2">-</text>
<text x="439.05" y="882.5" font-size="10.2" font-family='"Liberation Sans", sans-serif' font-weight="normal" fill="#000" text-anchor="middle" stroke="#000" stroke-width="0.2">-</text>
<text x="464" y="882.1" font-size="10.2" font-family='"Liberation Sans", sans-serif' font-weight="normal" fill="#000" text-anchor="middle" stroke="#000" stroke-width="0.2">+</text>
<text x="488.95" y="882.5" font-size="10.2" font-family='"Liberation Sans", sans-serif' font-weight="normal" fill="#000" text-anchor="middle" stroke="#000" stroke-width="0.2">-</text>
<text x="513.9" y="882.5" font-size="10.2" font-family='"Liberation Sans", sans-serif' font-weight="normal" fill="#000" text-anchor="middle" stroke="#000" stroke-width="0.2">-</text>
<text x="538.85" y="882.5" font-size="10.2" font-family='"Liberation Sans", sans-serif' font-weight="normal" fill="#000" text-anchor="middle" stroke="#000" stroke-width="0.2">-</text>
<text x="563.8" y="882.1" font-size="10.2" font-family='"Liberation Sans", sans-serif' font-weight="normal" fill="#000" text-anchor="middle" stroke="#000" stroke-width="0.2">+</text>
<text x="588.75" y="882.5" font-size="10.2" font-family='"Liberation Sans", sans-serif' font-weight="normal" fill="#000" text-anchor="middle" stroke="#000" stroke-width="0.2">-</text>
<text transform="translate(377.5,894.5) scale(1.03,1)" font-size="10.2" font-family='"Liberation Sans", sans-serif' font-weight="normal" fill="#000" text-anchor="start" stroke="#000" stroke-width="0.05">PAO1</text>
<text x="414.1" y="894.9" font-size="10.2" font-family='"Liberation Sans", sans-serif' font-weight="normal" fill="#000" text-anchor="middle" stroke="#000" stroke-width="0.2">-</text>
<text x="439.05" y="894.9" font-size="10.2" font-family='"Liberation Sans", sans-serif' font-weight="normal" fill="#000" text-anchor="middle" stroke="#000" stroke-width="0.2">-</text>
<text x="464" y="894.9" font-size="10.2" font-family='"Liberation Sans", sans-serif' font-weight="normal" fill="#000" text-anchor="middle" stroke="#000" stroke-width="0.2">-</text>
<text x="488.95" y="894.5" font-size="10.2" font-family='"Liberation Sans", sans-serif' font-weight="normal" fill="#000" text-anchor="middle" stroke="#000" stroke-width="0.2">+</text>
<text x="513.9" y="894.9" font-size="10.2" font-family='"Liberation Sans", sans-serif' font-weight="normal" fill="#000" text-anchor="middle" stroke="#000" stroke-width="0.2">-</text>
<text x="538.85" y="894.9" font-size="10.2" font-family='"Liberation Sans", sans-serif' font-weight="normal" fill="#000" text-anchor="middle" stroke="#000" stroke-width="0.2">-</text>
<text x="563.8" y="894.9" font-size="10.2" font-family='"Liberation Sans", sans-serif' font-weight="normal" fill="#000" text-anchor="middle" stroke="#000" stroke-width="0.2">-</text>
<text x="588.75" y="894.5" font-size="10.2" font-family='"Liberation Sans", sans-serif' font-weight="normal" fill="#000" text-anchor="middle" stroke="#000" stroke-width="0.2">+</text>
<rect x="638" y="709.6" width="11.7" height="4.8" fill="#fff" stroke="#000" stroke-width="2"/>
<rect x="638" y="727.4" width="11.7" height="4.8" fill="#b4b4b4" stroke="#000" stroke-width="2"/>
<text x="659.4" y="715.9" font-size="11.3" font-family='"Liberation Sans", sans-serif' font-weight="normal" fill="#222" text-anchor="start">24 h</text>
<text x="659.4" y="733.7" font-size="11.3" font-family='"Liberation Sans", sans-serif' font-weight="normal" fill="#222" text-anchor="start">48 h</text>
<line x1="122.1" y1="1066.33" x2="122.1" y2="1064.21" stroke="#a0a0a0" stroke-width="1.5"/>
<line x1="118.2" y1="1064.5" x2="125.8" y2="1064.5" stroke="#3a3a3a" stroke-width="1.05"/>
<rect x="115.1" y="1067.33" width="13.4" height="11.67" fill="#ffffff" stroke="#000" stroke-width="2"/>
<line x1="145.95" y1="1066.33" x2="145.95" y2="1062.42" stroke="#a0a0a0" stroke-width="1.5"/>
<line x1="142.05" y1="1062.5" x2="149.65" y2="1062.5" stroke="#3a3a3a" stroke-width="1.05"/>
<rect x="138.95" y="1067.33" width="13.4" height="11.67" fill="#ffffff" stroke="#000" stroke-width="2"/>
<line x1="169.8" y1="1052.35" x2="169.8" y2="1043.25" stroke="#a0a0a0" stroke-width="1.5"/>
<line x1="165.9" y1="1043.5" x2="173.5" y2="1043.5" stroke="#3a3a3a" stroke-width="1.05"/>
<rect x="162.8" y="1053.35" width="13.4" height="25.65" fill="#ffffff" stroke="#000" stroke-width="2"/>
<line x1="193.65" y1="1051.38" x2="193.65" y2="1031.55" stroke="#a0a0a0" stroke-width="1.5"/>
<line x1="189.75" y1="1031.5" x2="197.35" y2="1031.5" stroke="#3a3a3a" stroke-width="1.05"/>
<rect x="186.65" y="1052.38" width="13.4" height="26.62" fill="#ffffff" stroke="#000" stroke-width="2"/>
<line x1="217.5" y1="1056.25" x2="217.5" y2="1051.38" stroke="#a0a0a0" stroke-width="1.5"/>
<line x1="213.6" y1="1051.5" x2="221.2" y2="1051.5" stroke="#3a3a3a" stroke-width="1.05"/>
<rect x="210.5" y="1057.25" width="13.4" height="21.75" fill="#b4b4b4" stroke="#000" stroke-width="2"/>
<line x1="241.35" y1="1047.15" x2="241.35" y2="1032.53" stroke="#a0a0a0" stroke-width="1.5"/>
<line x1="237.45" y1="1032.5" x2="245.05" y2="1032.5" stroke="#3a3a3a" stroke-width="1.05"/>
<rect x="234.35" y="1048.15" width="13.4" height="30.85" fill="#b4b4b4" stroke="#000" stroke-width="2"/>
<line x1="265.2" y1="1038.05" x2="265.2" y2="1026.35" stroke="#a0a0a0" stroke-width="1.5"/>
<line x1="261.3" y1="1026.5" x2="268.9" y2="1026.5" stroke="#3a3a3a" stroke-width="1.05"/>
<rect x="258.2" y="1039.05" width="13.4" height="39.95" fill="#b4b4b4" stroke="#000" stroke-width="2"/>
<line x1="289.05" y1="1009.61" x2="289.05" y2="981.3" stroke="#a0a0a0" stroke-width="1.5"/>
<line x1="285.15" y1="981.5" x2="292.75" y2="981.5" stroke="#3a3a3a" stroke-width="1.05"/>
<rect x="282.05" y="1010.61" width="13.4" height="68.39" fill="#b4b4b4" stroke="#000" stroke-width="2"/>
<line x1="106.1" y1="949" x2="106.1" y2="1080" stroke="#000" stroke-width="2"/>
<line x1="100.1" y1="1079" x2="306.2" y2="1079" stroke="#000" stroke-width="2"/>
<line x1="100.1" y1="1079" x2="106.1" y2="1079" stroke="#000" stroke-width="2"/>
<text transform="translate(98.6,1082.2) scale(1.12,1)" font-size="8.7" font-family='"Liberation Sans", sans-serif' font-weight="bold" fill="#111" text-anchor="end">0</text>
<line x1="100.1" y1="1046.5" x2="106.1" y2="1046.5" stroke="#000" stroke-width="2"/>
<text transform="translate(98.6,1049.7) scale(1.12,1)" font-size="8.7" font-family='"Liberation Sans", sans-serif' font-weight="bold" fill="#111" text-anchor="end">100</text>
<line x1="100.1" y1="1014" x2="106.1" y2="1014" stroke="#000" stroke-width="2"/>
<text transform="translate(98.6,1017.2) scale(1.12,1)" font-size="8.7" font-family='"Liberation Sans", sans-serif' font-weight="bold" fill="#111" text-anchor="end">200</text>
<line x1="100.1" y1="981.5" x2="106.1" y2="981.5" stroke="#000" stroke-width="2"/>
<text transform="translate(98.6,984.7) scale(1.12,1)" font-size="8.7" font-family='"Liberation Sans", sans-serif' font-weight="bold" fill="#111" text-anchor="end">300</text>
<line x1="100.1" y1="949" x2="106.1" y2="949" stroke="#000" stroke-width="2"/>
<text transform="translate(98.6,952.2) scale(1.12,1)" font-size="8.7" font-family='"Liberation Sans", sans-serif' font-weight="bold" fill="#111" text-anchor="end">400</text>
<line x1="121.8" y1="1079" x2="121.8" y2="1084.6" stroke="#000" stroke-width="2"/>
<line x1="145.65" y1="1079" x2="145.65" y2="1084.6" stroke="#000" stroke-width="2"/>
<line x1="169.5" y1="1079" x2="169.5" y2="1084.6" stroke="#000" stroke-width="2"/>
<line x1="193.35" y1="1079" x2="193.35" y2="1084.6" stroke="#000" stroke-width="2"/>
<line x1="217.2" y1="1079" x2="217.2" y2="1084.6" stroke="#000" stroke-width="2"/>
<line x1="241.05" y1="1079" x2="241.05" y2="1084.6" stroke="#000" stroke-width="2"/>
<line x1="264.9" y1="1079" x2="264.9" y2="1084.6" stroke="#000" stroke-width="2"/>
<line x1="288.75" y1="1079" x2="288.75" y2="1084.6" stroke="#000" stroke-width="2"/>
<polyline points="193.3,1024 193.3,938.6 289.1,938.6 289.1,958" fill="none" stroke="#333" stroke-width="1.3"/>
<path d="M241.1 926.45L241.1 932.55M243.74 927.98L238.46 931.02M243.74 931.02L238.46 927.98" stroke="#111" stroke-width="1.45" fill="none"/>
<circle cx="241.1" cy="929.5" r="1.3" fill="#111"/>
<polyline points="217.4,1043.4 217.4,965.7 289.1,965.7 289.1,973.7" fill="none" stroke="#333" stroke-width="1.3"/>
<path d="M253.1 953.95L253.1 960.05M255.74 955.48L250.46 958.52M255.74 958.52L250.46 955.48" stroke="#111" stroke-width="1.45" fill="none"/>
<circle cx="253.1" cy="957" r="1.3" fill="#111"/>
<text transform="translate(76.2,1013.5) rotate(-90)" font-size="10.85" font-family='"Liberation Sans", sans-serif' font-weight="bold" fill="#111" text-anchor="middle">Angiopoietin-2 [pg/ml]</text>
<text transform="translate(86.6,1098.5) scale(1.03,1)" font-size="10.2" font-family='"Liberation Sans", sans-serif' font-weight="normal" fill="#000" text-anchor="start" stroke="#000" stroke-width="0.05">Liver</text>
<text x="121.8" y="1098.5" font-size="10.2" font-family='"Liberation Sans", sans-serif' font-weight="normal" fill="#000" text-anchor="middle" stroke="#000" stroke-width="0.2">+</text>
<text x="145.65" y="1098.5" font-size="10.2" font-family='"Liberation Sans", sans-serif' font-weight="normal" fill="#000" text-anchor="middle" stroke="#000" stroke-width="0.2">+</text>
<text x="169.5" y="1098.5" font-size="10.2" font-family='"Liberation Sans", sans-serif' font-weight="normal" fill="#000" text-anchor="middle" stroke="#000" stroke-width="0.2">+</text>
<text x="193.35" y="1098.5" font-size="10.2" font-family='"Liberation Sans", sans-serif' font-weight="normal" fill="#000" text-anchor="middle" stroke="#000" stroke-width="0.2">+</text>
<text x="217.2" y="1098.5" font-size="10.2" font-family='"Liberation Sans", sans-serif' font-weight="normal" fill="#000" text-anchor="middle" stroke="#000" stroke-width="0.2">+</text>
<text x="241.05" y="1098.5" font-size="10.2" font-family='"Liberation Sans", sans-serif' font-weight="normal" fill="#000" text-anchor="middle" stroke="#000" stroke-width="0.2">+</text>
<text x="264.9" y="1098.5" font-size="10.2" font-family='"Liberation Sans", sans-serif' font-weight="normal" fill="#000" text-anchor="middle" stroke="#000" stroke-width="0.2">+</text>
<text x="288.75" y="1098.5" font-size="10.2" font-family='"Liberation Sans", sans-serif' font-weight="normal" fill="#000" text-anchor="middle" stroke="#000" stroke-width="0.2">+</text>
<text transform="translate(86.6,1110.4) scale(1.03,1)" font-size="10.2" font-family='"Liberation Sans", sans-serif' font-weight="normal" fill="#000" text-anchor="start" stroke="#000" stroke-width="0.05">Lung</text>
<text x="121.8" y="1110.8" font-size="10.2" font-family='"Liberation Sans", sans-serif' font-weight="normal" fill="#000" text-anchor="middle" stroke="#000" stroke-width="0.2">-</text>
<text x="145.65" y="1110.4" font-size="10.2" font-family='"Liberation Sans", sans-serif' font-weight="normal" fill="#000" text-anchor="middle" stroke="#000" stroke-width="0.2">+</text>
<text x="169.5" y="1110.4" font-size="10.2" font-family='"Liberation Sans", sans-serif' font-weight="normal" fill="#000" text-anchor="middle" stroke="#000" stroke-width="0.2">+</text>
<text x="193.35" y="1110.4" font-size="10.2" font-family='"Liberation Sans", sans-serif' font-weight="normal" fill="#000" text-anchor="middle" stroke="#000" stroke-width="0.2">+</text>
<text x="217.2" y="1110.8" font-size="10.2" font-family='"Liberation Sans", sans-serif' font-weight="normal" fill="#000" text-anchor="middle" stroke="#000" stroke-width="0.2">-</text>
<text x="241.05" y="1110.4" font-size="10.2" font-family='"Liberation Sans", sans-serif' font-weight="normal" fill="#000" text-anchor="middle" stroke="#000" stroke-width="0.2">+</text>
<text x="264.9" y="1110.4" font-size="10.2" font-family='"Liberation Sans", sans-serif' font-weight="normal" fill="#000" text-anchor="middle" stroke="#000" stroke-width="0.2">+</text>
<text x="288.75" y="1110.4" font-size="10.2" font-family='"Liberation Sans", sans-serif' font-weight="normal" fill="#000" text-anchor="middle" stroke="#000" stroke-width="0.2">+</text>
<text transform="translate(86.6,1122.3) scale(1.03,1)" font-size="10.2" font-family='"Liberation Sans", sans-serif' font-weight="normal" fill="#000" text-anchor="start" stroke="#000" stroke-width="0.05">NTHi</text>
<text x="121.8" y="1122.7" font-size="10.2" font-family='"Liberation Sans", sans-serif' font-weight="normal" fill="#000" text-anchor="middle" stroke="#000" stroke-width="0.2">-</text>
<text x="145.65" y="1122.7" font-size="10.2" font-family='"Liberation Sans", sans-serif' font-weight="normal" fill="#000" text-anchor="middle" stroke="#000" stroke-width="0.2">-</text>
<text x="169.5" y="1122.3" font-size="10.2" font-family='"Liberation Sans", sans-serif' font-weight="normal" fill="#000" text-anchor="middle" stroke="#000" stroke-width="0.2">+</text>
<text x="193.35" y="1122.7" font-size="10.2" font-family='"Liberation Sans", sans-serif' font-weight="normal" fill="#000" text-anchor="middle" stroke="#000" stroke-width="0.2">-</text>
<text x="217.2" y="1122.7" font-size="10.2" font-family='"Liberation Sans", sans-serif' font-weight="normal" fill="#000" text-anchor="middle" stroke="#000" stroke-width="0.2">-</text>
<text x="241.05" y="1122.7" font-size="10.2" font-family='"Liberation Sans", sans-serif' font-weight="normal" fill="#000" text-anchor="middle" stroke="#000" stroke-width="0.2">-</text>
<text x="264.9" y="1122.3" font-size="10.2" font-family='"Liberation Sans", sans-serif' font-weight="normal" fill="#000" text-anchor="middle" stroke="#000" stroke-width="0.2">+</text>
<text x="288.75" y="1122.7" font-size="10.2" font-family='"Liberation Sans", sans-serif' font-weight="normal" fill="#000" text-anchor="middle" stroke="#000" stroke-width="0.2">-</text>
<text transform="translate(86.6,1134.2) scale(1.03,1)" font-size="10.2" font-family='"Liberation Sans", sans-serif' font-weight="normal" fill="#000" text-anchor="start" stroke="#000" stroke-width="0.05">PAO1</text>
<text x="121.8" y="1134.6" font-size="10.2" font-family='"Liberation Sans", sans-serif' font-weight="normal" fill="#000" text-anchor="middle" stroke="#000" stroke-width="0.2">-</text>
<text x="145.65" y="1134.6" font-size="10.2" font-family='"Liberation Sans", sans-serif' font-weight="normal" fill="#000" text-anchor="middle" stroke="#000" stroke-width="0.2">-</text>
<text x="169.5" y="1134.6" font-size="10.2" font-family='"Liberation Sans", sans-serif' font-weight="normal" fill="#000" text-anchor="middle" stroke="#000" stroke-width="0.2">-</text>
<text x="193.35" y="1134.2" font-size="10.2" font-family='"Liberation Sans", sans-serif' font-weight="normal" fill="#000" text-anchor="middle" stroke="#000" stroke-width="0.2">+</text>
<text x="217.2" y="1134.6" font-size="10.2" font-family='"Liberation Sans", sans-serif' font-weight="normal" fill="#000" text-anchor="middle" stroke="#000" stroke-width="0.2">-</text>
<text x="241.05" y="1134.6" font-size="10.2" font-family='"Liberation Sans", sans-serif' font-weight="normal" fill="#000" text-anchor="middle" stroke="#000" stroke-width="0.2">-</text>
<text x="264.9" y="1134.6" font-size="10.2" font-family='"Liberation Sans", sans-serif' font-weight="normal" fill="#000" text-anchor="middle" stroke="#000" stroke-width="0.2">-</text>
<text x="288.75" y="1134.2" font-size="10.2" font-family='"Liberation Sans", sans-serif' font-weight="normal" fill="#000" text-anchor="middle" stroke="#000" stroke-width="0.2">+</text>
<line x1="428.5" y1="1053.4" x2="428.5" y2="1049.5" stroke="#484848" stroke-width="1"/>
<line x1="424.3" y1="1049.5" x2="431.9" y2="1049.5" stroke="#484848" stroke-width="1.05"/>
<rect x="421.3" y="1054.4" width="13.6" height="23.3" fill="#ffffff" stroke="#000" stroke-width="2"/>
<line x1="452.5" y1="1054.9" x2="452.5" y2="1048.5" stroke="#484848" stroke-width="1"/>
<line x1="448.52" y1="1048.5" x2="456.12" y2="1048.5" stroke="#484848" stroke-width="1.05"/>
<rect x="445.52" y="1055.9" width="13.6" height="21.8" fill="#ffffff" stroke="#000" stroke-width="2"/>
<line x1="476.5" y1="1043.59" x2="476.5" y2="1028.5" stroke="#484848" stroke-width="1"/>
<line x1="472.74" y1="1028.5" x2="480.34" y2="1028.5" stroke="#484848" stroke-width="1.05"/>
<rect x="469.74" y="1044.59" width="13.6" height="33.11" fill="#ffffff" stroke="#000" stroke-width="2"/>
<line x1="500.5" y1="1027.51" x2="500.5" y2="1004.5" stroke="#484848" stroke-width="1"/>
<line x1="496.96" y1="1004.5" x2="504.56" y2="1004.5" stroke="#484848" stroke-width="1.05"/>
<rect x="493.96" y="1028.51" width="13.6" height="49.19" fill="#ffffff" stroke="#000" stroke-width="2"/>
<line x1="524.5" y1="1028.5" x2="524.5" y2="1022.5" stroke="#484848" stroke-width="1"/>
<line x1="521.18" y1="1022.5" x2="528.78" y2="1022.5" stroke="#484848" stroke-width="1.05"/>
<rect x="518.18" y="1029.5" width="13.6" height="48.2" fill="#b4b4b4" stroke="#000" stroke-width="2"/>
<line x1="549.5" y1="992.12" x2="549.5" y2="972.5" stroke="#484848" stroke-width="1"/>
<line x1="545.4" y1="972.5" x2="553" y2="972.5" stroke="#484848" stroke-width="1.05"/>
<rect x="542.4" y="992.12" width="13.6" height="15.38" fill="#b4b4b4"/>
<polyline points="542.4,1007.5 542.4,993.12 556,993.12 556,1007.5" fill="none" stroke="#000" stroke-width="2"/>
<rect x="542.4" y="1017.8" width="13.6" height="59.9" fill="#b4b4b4"/>
<polyline points="542.4,1017.8 542.4,1077.7 556,1077.7 556,1017.8" fill="none" stroke="#000" stroke-width="2"/>
<line x1="573.5" y1="995.22" x2="573.5" y2="987.5" stroke="#484848" stroke-width="1"/>
<line x1="569.62" y1="987.5" x2="577.22" y2="987.5" stroke="#484848" stroke-width="1.05"/>
<rect x="566.62" y="995.22" width="13.6" height="12.28" fill="#b4b4b4"/>
<polyline points="566.62,1007.5 566.62,996.22 580.22,996.22 580.22,1007.5" fill="none" stroke="#000" stroke-width="2"/>
<rect x="566.62" y="1017.8" width="13.6" height="59.9" fill="#b4b4b4"/>
<polyline points="566.62,1017.8 566.62,1077.7 580.22,1077.7 580.22,1017.8" fill="none" stroke="#000" stroke-width="2"/>
<line x1="597.5" y1="990.71" x2="597.5" y2="985.5" stroke="#484848" stroke-width="1"/>
<line x1="593.84" y1="985.5" x2="601.44" y2="985.5" stroke="#484848" stroke-width="1.05"/>
<rect x="590.84" y="990.71" width="13.6" height="16.79" fill="#b4b4b4"/>
<polyline points="590.84,1007.5 590.84,991.71 604.44,991.71 604.44,1007.5" fill="none" stroke="#000" stroke-width="2"/>
<rect x="590.84" y="1017.8" width="13.6" height="59.9" fill="#b4b4b4"/>
<polyline points="590.84,1017.8 590.84,1077.7 604.44,1077.7 604.44,1017.8" fill="none" stroke="#000" stroke-width="2"/>
<line x1="411.7" y1="947.1" x2="411.7" y2="1008.6" stroke="#000" stroke-width="2"/>
<line x1="408.7" y1="1007.8" x2="415" y2="1007.8" stroke="#000" stroke-width="2"/>
<line x1="405.7" y1="1017.7" x2="415" y2="1017.7" stroke="#000" stroke-width="2"/>
<line x1="411.7" y1="1016.7" x2="411.7" y2="1078.7" stroke="#000" stroke-width="2"/>
<line x1="405.7" y1="1077.7" x2="615.8" y2="1077.7" stroke="#000" stroke-width="2"/>
<line x1="405.7" y1="1077.7" x2="411.7" y2="1077.7" stroke="#000" stroke-width="2"/>
<text transform="translate(404.2,1080.9) scale(1.12,1)" font-size="8.7" font-family='"Liberation Sans", sans-serif' font-weight="bold" fill="#111" text-anchor="end">0</text>
<line x1="405.7" y1="1062.7" x2="411.7" y2="1062.7" stroke="#000" stroke-width="2"/>
<text transform="translate(404.2,1065.9) scale(1.12,1)" font-size="8.7" font-family='"Liberation Sans", sans-serif' font-weight="bold" fill="#111" text-anchor="end">5000</text>
<line x1="405.7" y1="1047.7" x2="411.7" y2="1047.7" stroke="#000" stroke-width="2"/>
<text transform="translate(404.2,1050.9) scale(1.12,1)" font-size="8.7" font-family='"Liberation Sans", sans-serif' font-weight="bold" fill="#111" text-anchor="end">10000</text>
<line x1="405.7" y1="1032.7" x2="411.7" y2="1032.7" stroke="#000" stroke-width="2"/>
<text transform="translate(404.2,1035.9) scale(1.12,1)" font-size="8.7" font-family='"Liberation Sans", sans-serif' font-weight="bold" fill="#111" text-anchor="end">15000</text>
<line x1="405.7" y1="1017.7" x2="411.7" y2="1017.7" stroke="#000" stroke-width="2"/>
<text transform="translate(404.2,1020.9) scale(1.12,1)" font-size="8.7" font-family='"Liberation Sans", sans-serif' font-weight="bold" fill="#111" text-anchor="end">20000</text>
<line x1="405.7" y1="994" x2="411.7" y2="994" stroke="#000" stroke-width="2"/>
<text transform="translate(404.2,997.2) scale(1.12,1)" font-size="8.7" font-family='"Liberation Sans", sans-serif' font-weight="bold" fill="#111" text-anchor="end">50000</text>
<line x1="405.7" y1="970.5" x2="411.7" y2="970.5" stroke="#000" stroke-width="2"/>
<text transform="translate(404.2,973.7) scale(1.12,1)" font-size="8.7" font-family='"Liberation Sans", sans-serif' font-weight="bold" fill="#111" text-anchor="end">100000</text>
<line x1="405.7" y1="947" x2="411.7" y2="947" stroke="#000" stroke-width="2"/>
<text transform="translate(404.2,950.2) scale(1.12,1)" font-size="8.7" font-family='"Liberation Sans", sans-serif' font-weight="bold" fill="#111" text-anchor="end">150000</text>
<line x1="428.1" y1="1077.7" x2="428.1" y2="1083.3" stroke="#000" stroke-width="2"/>
<line x1="452.32" y1="1077.7" x2="452.32" y2="1083.3" stroke="#000" stroke-width="2"/>
<line x1="476.54" y1="1077.7" x2="476.54" y2="1083.3" stroke="#000" stroke-width="2"/>
<line x1="500.76" y1="1077.7" x2="500.76" y2="1083.3" stroke="#000" stroke-width="2"/>
<line x1="524.98" y1="1077.7" x2="524.98" y2="1083.3" stroke="#000" stroke-width="2"/>
<line x1="549.2" y1="1077.7" x2="549.2" y2="1083.3" stroke="#000" stroke-width="2"/>
<line x1="573.42" y1="1077.7" x2="573.42" y2="1083.3" stroke="#000" stroke-width="2"/>
<line x1="597.64" y1="1077.7" x2="597.64" y2="1083.3" stroke="#000" stroke-width="2"/>
<polyline points="452.2,949.4 452.2,942 549.4,942 549.4,949.4" fill="none" stroke="#333" stroke-width="1.3"/>
<path d="M500.9 929.85L500.9 935.95M503.54 931.38L498.26 934.42M503.54 934.42L498.26 931.38" stroke="#111" stroke-width="1.45" fill="none"/>
<circle cx="500.9" cy="932.9" r="1.3" fill="#111"/>
<text transform="translate(353.2,1012.1) rotate(-90)" font-size="10.9" font-family='"Liberation Sans", sans-serif' font-weight="bold" fill="#111" text-anchor="middle">&#945;2-Macroglobulin</text>
<text transform="translate(366.0,1012.5) rotate(-90)" font-size="11.2" font-family='"Liberation Sans", sans-serif' font-weight="bold" fill="#111" text-anchor="middle">[pg/ml]</text>
<text transform="translate(392.6,1098.5) scale(1.03,1)" font-size="10.2" font-family='"Liberation Sans", sans-serif' font-weight="normal" fill="#000" text-anchor="start" stroke="#000" stroke-width="0.05">Liver</text>
<text x="428.1" y="1098.5" font-size="10.2" font-family='"Liberation Sans", sans-serif' font-weight="normal" fill="#000" text-anchor="middle" stroke="#000" stroke-width="0.2">+</text>
<text x="452.32" y="1098.5" font-size="10.2" font-family='"Liberation Sans", sans-serif' font-weight="normal" fill="#000" text-anchor="middle" stroke="#000" stroke-width="0.2">+</text>
<text x="476.54" y="1098.5" font-size="10.2" font-family='"Liberation Sans", sans-serif' font-weight="normal" fill="#000" text-anchor="middle" stroke="#000" stroke-width="0.2">+</text>
<text x="500.76" y="1098.5" font-size="10.2" font-family='"Liberation Sans", sans-serif' font-weight="normal" fill="#000" text-anchor="middle" stroke="#000" stroke-width="0.2">+</text>
<text x="524.98" y="1098.5" font-size="10.2" font-family='"Liberation Sans", sans-serif' font-weight="normal" fill="#000" text-anchor="middle" stroke="#000" stroke-width="0.2">+</text>
<text x="549.2" y="1098.5" font-size="10.2" font-family='"Liberation Sans", sans-serif' font-weight="normal" fill="#000" text-anchor="middle" stroke="#000" stroke-width="0.2">+</text>
<text x="573.42" y="1098.5" font-size="10.2" font-family='"Liberation Sans", sans-serif' font-weight="normal" fill="#000" text-anchor="middle" stroke="#000" stroke-width="0.2">+</text>
<text x="597.64" y="1098.5" font-size="10.2" font-family='"Liberation Sans", sans-serif' font-weight="normal" fill="#000" text-anchor="middle" stroke="#000" stroke-width="0.2">+</text>
<text transform="translate(392.6,1110.5) scale(1.03,1)" font-size="10.2" font-family='"Liberation Sans", sans-serif' font-weight="normal" fill="#000" text-anchor="start" stroke="#000" stroke-width="0.05">Lung</text>
<text x="428.1" y="1110.9" font-size="10.2" font-family='"Liberation Sans", sans-serif' font-weight="normal" fill="#000" text-anchor="middle" stroke="#000" stroke-width="0.2">-</text>
<text x="452.32" y="1110.5" font-size="10.2" font-family='"Liberation Sans", sans-serif' font-weight="normal" fill="#000" text-anchor="middle" stroke="#000" stroke-width="0.2">+</text>
<text x="476.54" y="1110.5" font-size="10.2" font-family='"Liberation Sans", sans-serif' font-weight="normal" fill="#000" text-anchor="middle" stroke="#000" stroke-width="0.2">+</text>
<text x="500.76" y="1110.5" font-size="10.2" font-family='"Liberation Sans", sans-serif' font-weight="normal" fill="#000" text-anchor="middle" stroke="#000" stroke-width="0.2">+</text>
<text x="524.98" y="1110.9" font-size="10.2" font-family='"Liberation Sans", sans-serif' font-weight="normal" fill="#000" text-anchor="middle" stroke="#000" stroke-width="0.2">-</text>
<text x="549.2" y="1110.5" font-size="10.2" font-family='"Liberation Sans", sans-serif' font-weight="normal" fill="#000" text-anchor="middle" stroke="#000" stroke-width="0.2">+</text>
<text x="573.42" y="1110.5" font-size="10.2" font-family='"Liberation Sans", sans-serif' font-weight="normal" fill="#000" text-anchor="middle" stroke="#000" stroke-width="0.2">+</text>
<text x="597.64" y="1110.5" font-size="10.2" font-family='"Liberation Sans", sans-serif' font-weight="normal" fill="#000" text-anchor="middle" stroke="#000" stroke-width="0.2">+</text>
<text transform="translate(392.6,1122.5) scale(1.03,1)" font-size="10.2" font-family='"Liberation Sans", sans-serif' font-weight="normal" fill="#000" text-anchor="start" stroke="#000" stroke-width="0.05">NTHi</text>
<text x="428.1" y="1122.9" font-size="10.2" font-family='"Liberation Sans", sans-serif' font-weight="normal" fill="#000" text-anchor="middle" stroke="#000" stroke-width="0.2">-</text>
<text x="452.32" y="1122.9" font-size="10.2" font-family='"Liberation Sans", sans-serif' font-weight="normal" fill="#000" text-anchor="middle" stroke="#000" stroke-width="0.2">-</text>
<text x="476.54" y="1122.5" font-size="10.2" font-family='"Liberation Sans", sans-serif' font-weight="normal" fill="#000" text-anchor="middle" stroke="#000" stroke-width="0.2">+</text>
<text x="500.76" y="1122.9" font-size="10.2" font-family='"Liberation Sans", sans-serif' font-weight="normal" fill="#000" text-anchor="middle" stroke="#000" stroke-width="0.2">-</text>
<text x="524.98" y="1122.9" font-size="10.2" font-family='"Liberation Sans", sans-serif' font-weight="normal" fill="#000" text-anchor="middle" stroke="#000" stroke-width="0.2">-</text>
<text x="549.2" y="1122.9" font-size="10.2" font-family='"Liberation Sans", sans-serif' font-weight="normal" fill="#000" text-anchor="middle" stroke="#000" stroke-width="0.2">-</text>
<text x="573.42" y="1122.5" font-size="10.2" font-family='"Liberation Sans", sans-serif' font-weight="normal" fill="#000" text-anchor="middle" stroke="#000" stroke-width="0.2">+</text>
<text x="597.64" y="1122.9" font-size="10.2" font-family='"Liberation Sans", sans-serif' font-weight="normal" fill="#000" text-anchor="middle" stroke="#000" stroke-width="0.2">-</text>
<text transform="translate(392.6,1134.6) scale(1.03,1)" font-size="10.2" font-family='"Liberation Sans", sans-serif' font-weight="normal" fill="#000" text-anchor="start" stroke="#000" stroke-width="0.05">PAO1</text>
<text x="428.1" y="1135" font-size="10.2" font-family='"Liberation Sans", sans-serif' font-weight="normal" fill="#000" text-anchor="middle" stroke="#000" stroke-width="0.2">-</text>
<text x="452.32" y="1135" font-size="10.2" font-family='"Liberation Sans", sans-serif' font-weight="normal" fill="#000" text-anchor="middle" stroke="#000" stroke-width="0.2">-</text>
<text x="476.54" y="1135" font-size="10.2" font-family='"Liberation Sans", sans-serif' font-weight="normal" fill="#000" text-anchor="middle" stroke="#000" stroke-width="0.2">-</text>
<text x="500.76" y="1134.6" font-size="10.2" font-family='"Liberation Sans", sans-serif' font-weight="normal" fill="#000" text-anchor="middle" stroke="#000" stroke-width="0.2">+</text>
<text x="524.98" y="1135" font-size="10.2" font-family='"Liberation Sans", sans-serif' font-weight="normal" fill="#000" text-anchor="middle" stroke="#000" stroke-width="0.2">-</text>
<text x="549.2" y="1135" font-size="10.2" font-family='"Liberation Sans", sans-serif' font-weight="normal" fill="#000" text-anchor="middle" stroke="#000" stroke-width="0.2">-</text>
<text x="573.42" y="1135" font-size="10.2" font-family='"Liberation Sans", sans-serif' font-weight="normal" fill="#000" text-anchor="middle" stroke="#000" stroke-width="0.2">-</text>
<text x="597.64" y="1134.6" font-size="10.2" font-family='"Liberation Sans", sans-serif' font-weight="normal" fill="#000" text-anchor="middle" stroke="#000" stroke-width="0.2">+</text>
</svg>
</body></html>
